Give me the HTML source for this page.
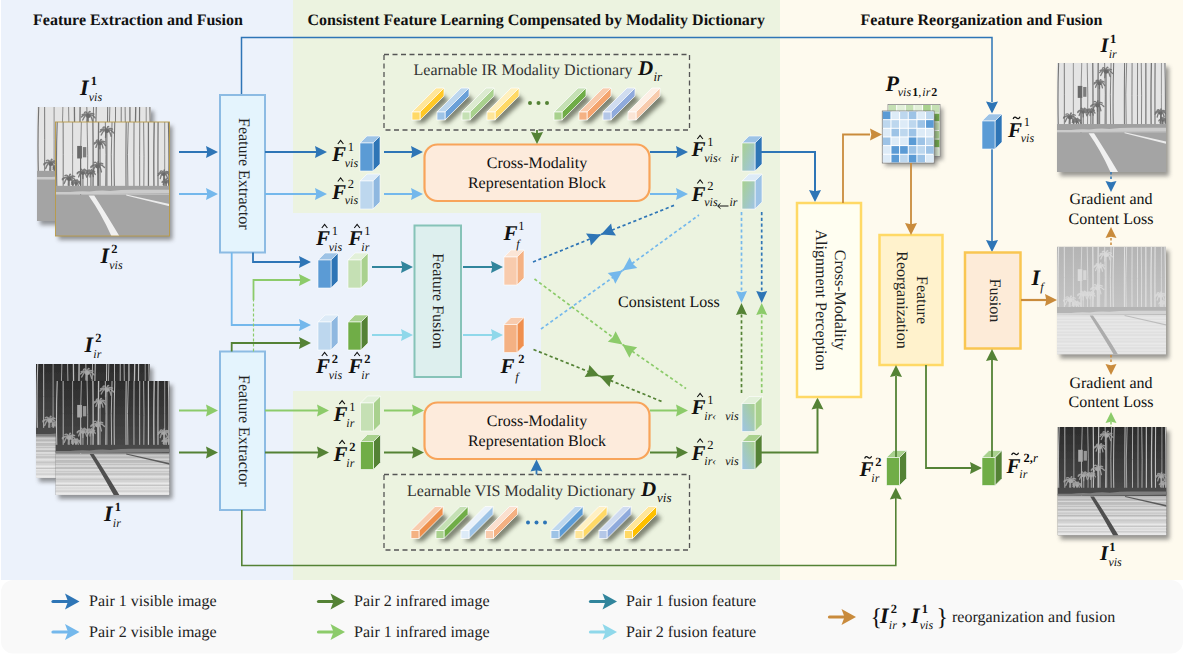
<!DOCTYPE html><html><head><meta charset="utf-8"><style>html,body{margin:0;padding:0;background:#fff;width:1184px;height:654px;overflow:hidden}svg{display:block}text{text-rendering:geometricPrecision;font-family:'Liberation Serif', serif}</style></head><body>
<svg width="1184" height="654" viewBox="0 0 1184 654">
<defs>
<filter id="blur3" x="-50%" y="-50%" width="200%" height="200%"><feGaussianBlur stdDeviation="2"/></filter>
<filter id="blur4" x="-50%" y="-50%" width="200%" height="200%"><feGaussianBlur stdDeviation="3"/></filter>
<filter id="soft" x="0" y="0" width="100%" height="100%"><feGaussianBlur stdDeviation="0.35"/></filter>
<linearGradient id="gvis" x1="0" y1="0" x2="1" y2="1"><stop offset="0" stop-color="#A9D18E"/><stop offset="1" stop-color="#9DC3E6"/></linearGradient>
<linearGradient id="gir" x1="1" y1="0" x2="0" y2="1"><stop offset="0" stop-color="#A9D18E"/><stop offset="1" stop-color="#9DC3E6"/></linearGradient>
<linearGradient id="skyv" x1="0" y1="0" x2="0" y2="1"><stop offset="0" stop-color="#EDEDED"/><stop offset="1" stop-color="#E2E2E2"/></linearGradient>
<linearGradient id="skyi" x1="0" y1="0" x2="0" y2="1"><stop offset="0" stop-color="#2C2C2C"/><stop offset="1" stop-color="#5A5A5A"/></linearGradient>
<linearGradient id="skyf" x1="0" y1="0" x2="0" y2="1"><stop offset="0" stop-color="#B4B4B4"/><stop offset="1" stop-color="#CFCFCF"/></linearGradient>
<linearGradient id="gndi" x1="0" y1="0" x2="0" y2="1"><stop offset="0" stop-color="#B4B4B4"/><stop offset="1" stop-color="#E2E2E2"/></linearGradient>

<symbol id="pv" viewBox="0 0 100 100" preserveAspectRatio="none"><rect width="100" height="100" fill="#E4E4E4"/><path d="M1.5,0 Q0.45254752177350577,29.147665529666323 1.1857642565320519,58.295331059332646" fill="none" stroke="#666666" stroke-width="0.98" opacity="0.9"/><path d="M6.7,0 Q6.807646012920068,28.644872573335086 6.73229380387602,57.28974514667017" fill="none" stroke="#666666" stroke-width="0.83" opacity="0.9"/><path d="M15,0 Q15.02230719956826,28.615997849549412 15.006692159870479,57.231995699098825" fill="none" stroke="#666666" stroke-width="0.65" opacity="0.9"/><path d="M22.7,0 Q21.409566270723857,29.36729136732477 22.312869881217157,58.73458273464954" fill="none" stroke="#666666" stroke-width="0.68" opacity="0.9"/><path d="M27.7,0 Q28.680556374016113,29.349038378285027 27.994166912204832,58.69807675657005" fill="none" stroke="#666666" stroke-width="0.70" opacity="0.9"/><path d="M32.8,0 Q33.18229966721677,28.94647792921403 32.91468990016503,57.89295585842806" fill="none" stroke="#666666" stroke-width="1.14" opacity="0.9"/><path d="M37.8,0 Q37.490041423952334,29.654205897235 37.7070124271857,59.30841179447" fill="none" stroke="#666666" stroke-width="1.16" opacity="0.9"/><path d="M43.7,0 Q44.77540537714604,28.593165361235513 44.02262161314381,57.18633072247103" fill="none" stroke="#666666" stroke-width="0.79" opacity="0.9"/><path d="M49.6,0 Q48.453376714235105,28.788510166714875 49.256013014270536,57.57702033342975" fill="none" stroke="#666666" stroke-width="0.80" opacity="0.9"/><path d="M52,0 Q51.04217913977181,30.132252718240064 51.71265374193155,60.26450543648013" fill="none" stroke="#666666" stroke-width="0.94" opacity="0.9"/><path d="M62,0 Q61.61719262817719,29.777826937852367 61.88515778845316,59.555653875704735" fill="none" stroke="#666666" stroke-width="0.93" opacity="0.9"/><path d="M63.9,0 Q62.5788035098987,28.625577949946646 63.503641052969606,57.25115589989329" fill="none" stroke="#666666" stroke-width="0.74" opacity="0.9"/><path d="M68.9,0 Q68.68277691700821,29.86079994636357 68.83483307510247,59.72159989272714" fill="none" stroke="#666666" stroke-width="0.80" opacity="0.9"/><path d="M73.9,0 Q73.75955312911233,29.671123727015278 73.85786593873371,59.342247454030556" fill="none" stroke="#666666" stroke-width="0.79" opacity="0.9"/><path d="M77.3,0 Q77.89698330118871,30.08875896304498 77.47909499035661,60.17751792608996" fill="none" stroke="#666666" stroke-width="0.76" opacity="0.9"/><path d="M81.5,0 Q81.57558951143436,29.648847420517342 81.52267685343031,59.297694841034684" fill="none" stroke="#666666" stroke-width="1.10" opacity="0.9"/><path d="M86.6,0 Q85.96381329467056,29.958890578878435 86.40914398840117,59.91778115775687" fill="none" stroke="#666666" stroke-width="1.16" opacity="0.9"/><path d="M90,0 Q89.75436846535568,28.736131556509925 89.9263105396067,57.47226311301985" fill="none" stroke="#666666" stroke-width="1.04" opacity="0.9"/><path d="M95.8,0 Q95.76688930142741,28.80396906932101 95.79006679042823,57.60793813864202" fill="none" stroke="#666666" stroke-width="0.65" opacity="0.9"/><path d="M99,0 Q99.79371259863844,29.83643171306879 99.23811377959153,59.67286342613758" fill="none" stroke="#666666" stroke-width="0.94" opacity="0.9"/><path d="M45,7 Q42.24179051893054,5.412081046798153 39.5,6.9 M45,7 Q43.343203219616434,3.2983925058812575 41.7,4.8 M45,7 Q45.8272934591305,2.6861188828548572 46.7,4.2 M45,7 Q47.52296494879042,4.702944255513975 50.0,6.2 M45,7 Q47.95471679081531,5.5 50.9,9.6 M45,7 Q46.89554305591098,5.5 48.8,12.5 M45,7 Q44.45938751358359,5.5 43.9,13.5 M45,7 Q42.537946434628395,5.5 40.1,11.5 M45,7 Q42.00000060836234,5.5 39.0,8.8" fill="none" stroke="#6a6a6a" stroke-width="1.2" stroke-linecap="round" opacity="0.85"/><ellipse cx="45" cy="8" rx="2.0999999999999996" ry="1.7999999999999998" fill="#6a6a6a"/><rect x="44.5" y="7" width="1.1" height="51" fill="#6a6a6a" opacity="0.8"/><path d="M39,18 Q36.64381308254741,16.5 34.3,18.2 M39,18 Q37.46522804190906,14.842492107081327 35.9,16.3 M39,18 Q39.69387730799289,14.157156292467974 40.4,15.7 M39,18 Q41.12361561447193,15.889299356079643 43.2,17.4 M39,18 Q41.389866315842625,16.5 43.8,20.7 M39,18 Q40.35794781006747,16.5 41.7,22.9 M39,18 Q38.963545459924504,16.5 38.9,23.5 M39,18 Q37.215444097291524,16.5 35.4,22.3 M39,18 Q36.50435045393672,16.5 34.0,19.3" fill="none" stroke="#6a6a6a" stroke-width="1.2" stroke-linecap="round" opacity="0.85"/><ellipse cx="39" cy="19" rx="1.75" ry="1.5" fill="#6a6a6a"/><rect x="38.5" y="18" width="1.1" height="40" fill="#6a6a6a" opacity="0.8"/><path d="M37,38 Q34.03295619937711,36.5 31.1,39.1 M37,38 Q35.45580385051549,34.18471469702184 33.9,35.7 M37,38 Q37.36274275633065,33.53521781259752 37.7,35.0 M37,38 Q39.26553291416467,35.15350303130902 41.5,36.7 M37,38 Q39.999530803050405,36.5 43.0,39.9 M37,38 Q38.66989671232657,36.5 40.3,43.8 M37,38 Q37.095966406220725,36.5 37.2,44.6 M37,38 Q34.94743951268963,36.5 32.9,43.3 M37,38 Q34.000886255889576,36.5 31.0,39.9" fill="none" stroke="#6a6a6a" stroke-width="1.2" stroke-linecap="round" opacity="0.85"/><ellipse cx="37" cy="39" rx="2.0999999999999996" ry="1.7999999999999998" fill="#6a6a6a"/><rect x="36.5" y="38" width="1.1" height="20" fill="#6a6a6a" opacity="0.8"/><path d="M31,44 Q29.160237904075274,42.44496808732982 27.3,43.9 M31,44 Q29.78163506846431,41.1623037124931 28.6,42.7 M31,44 Q31.408216212179447,40.56736526519106 31.8,42.1 M31,44 Q32.667238579141795,41.932513725154735 34.3,43.4 M31,44 Q32.9301770667734,42.5 34.9,46.0 M31,44 Q32.087690352038976,42.5 33.2,47.9 M31,44 Q30.625427042617964,42.5 30.3,48.3 M31,44 Q29.618204655294225,42.5 28.2,47.5 M31,44 Q29.000289118794097,42.5 27.0,45.3" fill="none" stroke="#6a6a6a" stroke-width="1.2" stroke-linecap="round" opacity="0.85"/><ellipse cx="31" cy="45" rx="1.4" ry="1.2" fill="#6a6a6a"/><rect x="30.5" y="44" width="1.1" height="14" fill="#6a6a6a" opacity="0.8"/><path d="M24,44 Q21.577239713376933,42.5 19.2,44.5 M24,44 Q22.994437465426245,40.337836621340095 22.0,41.8 M24,44 Q24.876275218225825,40.25376417462493 25.8,41.8 M24,44 Q25.90447639031578,41.40870642775693 27.8,42.9 M24,44 Q26.496507386145176,42.5 29.0,45.7 M24,44 Q25.706307671096134,42.5 27.4,48.4 M24,44 Q24.001988754016843,42.5 24.0,49.5 M24,44 Q22.164152284916582,42.5 20.3,48.2 M24,44 Q21.501543751943004,42.5 19.0,45.4" fill="none" stroke="#6a6a6a" stroke-width="1.2" stroke-linecap="round" opacity="0.85"/><ellipse cx="24" cy="45" rx="1.75" ry="1.5" fill="#6a6a6a"/><rect x="23.5" y="44" width="1.1" height="14" fill="#6a6a6a" opacity="0.8"/><path d="M12,49 Q9.072580675271116,47.5 6.1,49.8 M12,49 Q10.118347162977539,45.56154852133014 8.2,47.1 M12,49 Q12.585655633711905,44.592353120137844 13.2,46.1 M12,49 Q14.407676948620882,46.4364506673773 16.8,47.9 M12,49 Q14.9568038399205,47.5 17.9,51.6 M12,49 Q13.529179726299223,47.5 15.1,54.9 M12,49 Q11.592211023997894,47.5 11.2,55.6 M12,49 Q9.778425273859341,47.5 7.6,54.0 M12,49 Q9.00286213606139,47.5 6.0,50.6" fill="none" stroke="#6a6a6a" stroke-width="1.2" stroke-linecap="round" opacity="0.85"/><ellipse cx="12" cy="50" rx="2.0999999999999996" ry="1.7999999999999998" fill="#6a6a6a"/><rect x="11.5" y="49" width="1.1" height="9" fill="#6a6a6a" opacity="0.8"/><path d="M18,53 Q16.117479171970984,51.5 14.2,53.1 M18,53 Q16.769022717053534,50.177933581781296 15.5,51.7 M18,53 Q18.668211368015132,49.68388602118593 19.3,51.2 M18,53 Q19.739590472635733,51.12107885946183 21.5,52.6 M18,53 Q19.931564290296006,51.5 21.9,55.0 M18,53 Q19.09844637326512,51.5 20.2,56.9 M18,53 Q17.906199731069584,51.5 17.8,57.4 M18,53 Q16.566825175186437,51.5 15.1,56.4 M18,53 Q16.012204784820284,51.5 14.0,54.6" fill="none" stroke="#6a6a6a" stroke-width="1.2" stroke-linecap="round" opacity="0.85"/><ellipse cx="18" cy="54" rx="1.4" ry="1.2" fill="#6a6a6a"/><rect x="17.5" y="53" width="1.1" height="5" fill="#6a6a6a" opacity="0.8"/><path d="M95,45 Q92.63642093382859,43.5 90.3,45.2 M95,45 Q93.46616267485845,41.84132967316835 91.9,43.3 M95,45 Q95.22718766460795,41.01655079629124 95.5,42.5 M95,45 Q96.93229193971135,42.46197034672565 98.9,44.0 M95,45 Q97.4970370739115,43.5 100.0,46.7 M95,45 Q96.64616788110615,43.5 98.3,49.5 M95,45 Q95.13748971221129,43.5 95.3,50.5 M95,45 Q93.42942981424306,43.5 91.9,49.6 M95,45 Q92.51156229508862,43.5 90.0,46.9" fill="none" stroke="#6a6a6a" stroke-width="1.2" stroke-linecap="round" opacity="0.85"/><ellipse cx="95" cy="46" rx="1.75" ry="1.5" fill="#6a6a6a"/><rect x="94.5" y="45" width="1.1" height="13" fill="#6a6a6a" opacity="0.8"/><path d="M97,52 Q95.27583181995591,50.5 93.6,52.6 M97,52 Q96.0554660960781,49.19285965561748 95.1,50.7 M97,52 Q97.13714077863347,48.75861099781853 97.3,50.3 M97,52 Q98.545972450823,50.23793250778832 100.1,51.7 M97,52 Q98.72038877910833,50.5 100.4,53.6 M97,52 Q98.22604147146257,50.5 99.5,55.0 M97,52 Q96.99145828361523,50.5 97.0,55.8 M97,52 Q95.7650127389264,50.5 94.5,55.0 M97,52 Q95.25091526634009,50.5 93.5,53.1" fill="none" stroke="#6a6a6a" stroke-width="1.2" stroke-linecap="round" opacity="0.85"/><ellipse cx="97" cy="53" rx="1.2249999999999999" ry="1.05" fill="#6a6a6a"/><rect x="96.5" y="52" width="1.1" height="6" fill="#6a6a6a" opacity="0.8"/><rect x="19" y="21" width="4.2" height="11" fill="#6a6a6a"/><rect x="24" y="22" width="3" height="9" fill="#6a6a6a" opacity="0.85"/><rect x="21.5" y="30" width="1" height="34" fill="#6a6a6a"/><rect x="0" y="56" width="100" height="7" fill="#a0a0a0"/><path d="M0,61.5 L13,61.5 Q20,60.5 30,61 Q40,59.5 48,60.5 Q60,59 75,59.5 L100,59.5 L100,62.5 L0,63.5 Z" fill="#cbcbcb"/><rect x="0" y="63.5" width="100" height="36.5" fill="#a4a4a4"/><path d="M29,64.5 L34,64.5 Q44,80 56,100 L49,100 Q40,80 29,64.5 Z" fill="#f0f0f0"/><polygon points="62,63.5 100,72 100,74 62,64.5" fill="#ebebeb"/></symbol>
<symbol id="pi" viewBox="0 0 100 100" preserveAspectRatio="none"><rect width="100" height="100" fill="url(#skyi)"/><path d="M1.5,0 Q0.45254752177350577,29.147665529666323 1.1857642565320519,58.295331059332646" fill="none" stroke="#c4c4c4" stroke-width="0.98" opacity="0.95"/><path d="M6.7,0 Q6.807646012920068,28.644872573335086 6.73229380387602,57.28974514667017" fill="none" stroke="#c4c4c4" stroke-width="0.83" opacity="0.95"/><path d="M15,0 Q15.02230719956826,28.615997849549412 15.006692159870479,57.231995699098825" fill="none" stroke="#c4c4c4" stroke-width="0.65" opacity="0.95"/><path d="M22.7,0 Q21.409566270723857,29.36729136732477 22.312869881217157,58.73458273464954" fill="none" stroke="#c4c4c4" stroke-width="0.68" opacity="0.95"/><path d="M27.7,0 Q28.680556374016113,29.349038378285027 27.994166912204832,58.69807675657005" fill="none" stroke="#c4c4c4" stroke-width="0.70" opacity="0.95"/><path d="M32.8,0 Q33.18229966721677,28.94647792921403 32.91468990016503,57.89295585842806" fill="none" stroke="#c4c4c4" stroke-width="1.14" opacity="0.95"/><path d="M37.8,0 Q37.490041423952334,29.654205897235 37.7070124271857,59.30841179447" fill="none" stroke="#c4c4c4" stroke-width="1.16" opacity="0.95"/><path d="M43.7,0 Q44.77540537714604,28.593165361235513 44.02262161314381,57.18633072247103" fill="none" stroke="#c4c4c4" stroke-width="0.79" opacity="0.95"/><path d="M49.6,0 Q48.453376714235105,28.788510166714875 49.256013014270536,57.57702033342975" fill="none" stroke="#c4c4c4" stroke-width="0.80" opacity="0.95"/><path d="M52,0 Q51.04217913977181,30.132252718240064 51.71265374193155,60.26450543648013" fill="none" stroke="#c4c4c4" stroke-width="0.94" opacity="0.95"/><path d="M62,0 Q61.61719262817719,29.777826937852367 61.88515778845316,59.555653875704735" fill="none" stroke="#c4c4c4" stroke-width="0.93" opacity="0.95"/><path d="M63.9,0 Q62.5788035098987,28.625577949946646 63.503641052969606,57.25115589989329" fill="none" stroke="#c4c4c4" stroke-width="0.74" opacity="0.95"/><path d="M68.9,0 Q68.68277691700821,29.86079994636357 68.83483307510247,59.72159989272714" fill="none" stroke="#c4c4c4" stroke-width="0.80" opacity="0.95"/><path d="M73.9,0 Q73.75955312911233,29.671123727015278 73.85786593873371,59.342247454030556" fill="none" stroke="#c4c4c4" stroke-width="0.79" opacity="0.95"/><path d="M77.3,0 Q77.89698330118871,30.08875896304498 77.47909499035661,60.17751792608996" fill="none" stroke="#c4c4c4" stroke-width="0.76" opacity="0.95"/><path d="M81.5,0 Q81.57558951143436,29.648847420517342 81.52267685343031,59.297694841034684" fill="none" stroke="#c4c4c4" stroke-width="1.10" opacity="0.95"/><path d="M86.6,0 Q85.96381329467056,29.958890578878435 86.40914398840117,59.91778115775687" fill="none" stroke="#c4c4c4" stroke-width="1.16" opacity="0.95"/><path d="M90,0 Q89.75436846535568,28.736131556509925 89.9263105396067,57.47226311301985" fill="none" stroke="#c4c4c4" stroke-width="1.04" opacity="0.95"/><path d="M95.8,0 Q95.76688930142741,28.80396906932101 95.79006679042823,57.60793813864202" fill="none" stroke="#c4c4c4" stroke-width="0.65" opacity="0.95"/><path d="M99,0 Q99.79371259863844,29.83643171306879 99.23811377959153,59.67286342613758" fill="none" stroke="#c4c4c4" stroke-width="0.94" opacity="0.95"/><path d="M45,7 Q42.24179051893054,5.412081046798153 39.5,6.9 M45,7 Q43.343203219616434,3.2983925058812575 41.7,4.8 M45,7 Q45.8272934591305,2.6861188828548572 46.7,4.2 M45,7 Q47.52296494879042,4.702944255513975 50.0,6.2 M45,7 Q47.95471679081531,5.5 50.9,9.6 M45,7 Q46.89554305591098,5.5 48.8,12.5 M45,7 Q44.45938751358359,5.5 43.9,13.5 M45,7 Q42.537946434628395,5.5 40.1,11.5 M45,7 Q42.00000060836234,5.5 39.0,8.8" fill="none" stroke="#a8a8a8" stroke-width="1.2" stroke-linecap="round" opacity="0.85"/><ellipse cx="45" cy="8" rx="2.0999999999999996" ry="1.7999999999999998" fill="#a8a8a8"/><rect x="44.5" y="7" width="1.1" height="51" fill="#a8a8a8" opacity="0.8"/><path d="M39,18 Q36.64381308254741,16.5 34.3,18.2 M39,18 Q37.46522804190906,14.842492107081327 35.9,16.3 M39,18 Q39.69387730799289,14.157156292467974 40.4,15.7 M39,18 Q41.12361561447193,15.889299356079643 43.2,17.4 M39,18 Q41.389866315842625,16.5 43.8,20.7 M39,18 Q40.35794781006747,16.5 41.7,22.9 M39,18 Q38.963545459924504,16.5 38.9,23.5 M39,18 Q37.215444097291524,16.5 35.4,22.3 M39,18 Q36.50435045393672,16.5 34.0,19.3" fill="none" stroke="#a8a8a8" stroke-width="1.2" stroke-linecap="round" opacity="0.85"/><ellipse cx="39" cy="19" rx="1.75" ry="1.5" fill="#a8a8a8"/><rect x="38.5" y="18" width="1.1" height="40" fill="#a8a8a8" opacity="0.8"/><path d="M37,38 Q34.03295619937711,36.5 31.1,39.1 M37,38 Q35.45580385051549,34.18471469702184 33.9,35.7 M37,38 Q37.36274275633065,33.53521781259752 37.7,35.0 M37,38 Q39.26553291416467,35.15350303130902 41.5,36.7 M37,38 Q39.999530803050405,36.5 43.0,39.9 M37,38 Q38.66989671232657,36.5 40.3,43.8 M37,38 Q37.095966406220725,36.5 37.2,44.6 M37,38 Q34.94743951268963,36.5 32.9,43.3 M37,38 Q34.000886255889576,36.5 31.0,39.9" fill="none" stroke="#a8a8a8" stroke-width="1.2" stroke-linecap="round" opacity="0.85"/><ellipse cx="37" cy="39" rx="2.0999999999999996" ry="1.7999999999999998" fill="#a8a8a8"/><rect x="36.5" y="38" width="1.1" height="20" fill="#a8a8a8" opacity="0.8"/><path d="M31,44 Q29.160237904075274,42.44496808732982 27.3,43.9 M31,44 Q29.78163506846431,41.1623037124931 28.6,42.7 M31,44 Q31.408216212179447,40.56736526519106 31.8,42.1 M31,44 Q32.667238579141795,41.932513725154735 34.3,43.4 M31,44 Q32.9301770667734,42.5 34.9,46.0 M31,44 Q32.087690352038976,42.5 33.2,47.9 M31,44 Q30.625427042617964,42.5 30.3,48.3 M31,44 Q29.618204655294225,42.5 28.2,47.5 M31,44 Q29.000289118794097,42.5 27.0,45.3" fill="none" stroke="#a8a8a8" stroke-width="1.2" stroke-linecap="round" opacity="0.85"/><ellipse cx="31" cy="45" rx="1.4" ry="1.2" fill="#a8a8a8"/><rect x="30.5" y="44" width="1.1" height="14" fill="#a8a8a8" opacity="0.8"/><path d="M24,44 Q21.577239713376933,42.5 19.2,44.5 M24,44 Q22.994437465426245,40.337836621340095 22.0,41.8 M24,44 Q24.876275218225825,40.25376417462493 25.8,41.8 M24,44 Q25.90447639031578,41.40870642775693 27.8,42.9 M24,44 Q26.496507386145176,42.5 29.0,45.7 M24,44 Q25.706307671096134,42.5 27.4,48.4 M24,44 Q24.001988754016843,42.5 24.0,49.5 M24,44 Q22.164152284916582,42.5 20.3,48.2 M24,44 Q21.501543751943004,42.5 19.0,45.4" fill="none" stroke="#a8a8a8" stroke-width="1.2" stroke-linecap="round" opacity="0.85"/><ellipse cx="24" cy="45" rx="1.75" ry="1.5" fill="#a8a8a8"/><rect x="23.5" y="44" width="1.1" height="14" fill="#a8a8a8" opacity="0.8"/><path d="M12,49 Q9.072580675271116,47.5 6.1,49.8 M12,49 Q10.118347162977539,45.56154852133014 8.2,47.1 M12,49 Q12.585655633711905,44.592353120137844 13.2,46.1 M12,49 Q14.407676948620882,46.4364506673773 16.8,47.9 M12,49 Q14.9568038399205,47.5 17.9,51.6 M12,49 Q13.529179726299223,47.5 15.1,54.9 M12,49 Q11.592211023997894,47.5 11.2,55.6 M12,49 Q9.778425273859341,47.5 7.6,54.0 M12,49 Q9.00286213606139,47.5 6.0,50.6" fill="none" stroke="#a8a8a8" stroke-width="1.2" stroke-linecap="round" opacity="0.85"/><ellipse cx="12" cy="50" rx="2.0999999999999996" ry="1.7999999999999998" fill="#a8a8a8"/><rect x="11.5" y="49" width="1.1" height="9" fill="#a8a8a8" opacity="0.8"/><path d="M18,53 Q16.117479171970984,51.5 14.2,53.1 M18,53 Q16.769022717053534,50.177933581781296 15.5,51.7 M18,53 Q18.668211368015132,49.68388602118593 19.3,51.2 M18,53 Q19.739590472635733,51.12107885946183 21.5,52.6 M18,53 Q19.931564290296006,51.5 21.9,55.0 M18,53 Q19.09844637326512,51.5 20.2,56.9 M18,53 Q17.906199731069584,51.5 17.8,57.4 M18,53 Q16.566825175186437,51.5 15.1,56.4 M18,53 Q16.012204784820284,51.5 14.0,54.6" fill="none" stroke="#a8a8a8" stroke-width="1.2" stroke-linecap="round" opacity="0.85"/><ellipse cx="18" cy="54" rx="1.4" ry="1.2" fill="#a8a8a8"/><rect x="17.5" y="53" width="1.1" height="5" fill="#a8a8a8" opacity="0.8"/><path d="M95,45 Q92.63642093382859,43.5 90.3,45.2 M95,45 Q93.46616267485845,41.84132967316835 91.9,43.3 M95,45 Q95.22718766460795,41.01655079629124 95.5,42.5 M95,45 Q96.93229193971135,42.46197034672565 98.9,44.0 M95,45 Q97.4970370739115,43.5 100.0,46.7 M95,45 Q96.64616788110615,43.5 98.3,49.5 M95,45 Q95.13748971221129,43.5 95.3,50.5 M95,45 Q93.42942981424306,43.5 91.9,49.6 M95,45 Q92.51156229508862,43.5 90.0,46.9" fill="none" stroke="#a8a8a8" stroke-width="1.2" stroke-linecap="round" opacity="0.85"/><ellipse cx="95" cy="46" rx="1.75" ry="1.5" fill="#a8a8a8"/><rect x="94.5" y="45" width="1.1" height="13" fill="#a8a8a8" opacity="0.8"/><path d="M97,52 Q95.27583181995591,50.5 93.6,52.6 M97,52 Q96.0554660960781,49.19285965561748 95.1,50.7 M97,52 Q97.13714077863347,48.75861099781853 97.3,50.3 M97,52 Q98.545972450823,50.23793250778832 100.1,51.7 M97,52 Q98.72038877910833,50.5 100.4,53.6 M97,52 Q98.22604147146257,50.5 99.5,55.0 M97,52 Q96.99145828361523,50.5 97.0,55.8 M97,52 Q95.7650127389264,50.5 94.5,55.0 M97,52 Q95.25091526634009,50.5 93.5,53.1" fill="none" stroke="#a8a8a8" stroke-width="1.2" stroke-linecap="round" opacity="0.85"/><ellipse cx="97" cy="53" rx="1.2249999999999999" ry="1.05" fill="#a8a8a8"/><rect x="96.5" y="52" width="1.1" height="6" fill="#a8a8a8" opacity="0.8"/><rect x="19" y="21" width="4.2" height="11" fill="#a8a8a8"/><rect x="24" y="22" width="3" height="9" fill="#a8a8a8" opacity="0.85"/><rect x="21.5" y="30" width="1" height="34" fill="#a8a8a8"/><rect x="0" y="56" width="100" height="7" fill="#4a4a4a"/><path d="M0,61.5 L13,61.5 Q20,60.5 30,61 Q40,59.5 48,60.5 Q60,59 75,59.5 L100,59.5 L100,62.5 L0,63.5 Z" fill="#7e7e7e"/><rect x="0" y="63.5" width="100" height="36.5" fill="url(#gndi)"/><rect x="0" y="65" width="100" height="1.7999999999999998" fill="#f4f4f4" opacity="0.35"/><rect x="0" y="68" width="100" height="1.2" fill="#f4f4f4" opacity="0.53"/><rect x="0" y="71" width="100" height="1.7999999999999998" fill="#f4f4f4" opacity="0.41"/><rect x="0" y="74" width="100" height="1.2" fill="#f4f4f4" opacity="0.59"/><rect x="0" y="77" width="100" height="1.7999999999999998" fill="#f4f4f4" opacity="0.47"/><rect x="0" y="80" width="100" height="1.2" fill="#f4f4f4" opacity="0.35"/><rect x="0" y="83" width="100" height="1.7999999999999998" fill="#f4f4f4" opacity="0.53"/><rect x="0" y="86" width="100" height="1.2" fill="#f4f4f4" opacity="0.41"/><rect x="0" y="89" width="100" height="1.7999999999999998" fill="#f4f4f4" opacity="0.59"/><rect x="0" y="92" width="100" height="1.2" fill="#f4f4f4" opacity="0.47"/><rect x="0" y="95" width="100" height="1.7999999999999998" fill="#f4f4f4" opacity="0.35"/><rect x="0" y="98" width="100" height="1.2" fill="#f4f4f4" opacity="0.53"/><rect x="0" y="66" width="100" height="1" fill="#a0a0a0" opacity="0.4"/><rect x="0" y="71" width="100" height="1" fill="#a0a0a0" opacity="0.4"/><rect x="0" y="76" width="100" height="1" fill="#a0a0a0" opacity="0.4"/><rect x="0" y="81" width="100" height="1" fill="#a0a0a0" opacity="0.4"/><rect x="0" y="86" width="100" height="1" fill="#a0a0a0" opacity="0.4"/><rect x="0" y="91" width="100" height="1" fill="#a0a0a0" opacity="0.4"/><rect x="0" y="96" width="100" height="1" fill="#a0a0a0" opacity="0.4"/><path d="M30,64 L33.5,64 Q44,80 56,100 L51,100 Q40,80 30,64 Z" fill="#505050"/><polygon points="62,63.5 100,72 100,73.5 62,64.5" fill="#5a5a5a"/></symbol>
<symbol id="pf" viewBox="0 0 100 100" preserveAspectRatio="none"><rect width="100" height="100" fill="url(#skyf)"/><path d="M1.5,0 Q0.45254752177350577,29.147665529666323 1.1857642565320519,58.295331059332646" fill="none" stroke="#e8e8e8" stroke-width="0.98" opacity="0.85"/><path d="M6.7,0 Q6.807646012920068,28.644872573335086 6.73229380387602,57.28974514667017" fill="none" stroke="#e8e8e8" stroke-width="0.83" opacity="0.85"/><path d="M15,0 Q15.02230719956826,28.615997849549412 15.006692159870479,57.231995699098825" fill="none" stroke="#e8e8e8" stroke-width="0.65" opacity="0.85"/><path d="M22.7,0 Q21.409566270723857,29.36729136732477 22.312869881217157,58.73458273464954" fill="none" stroke="#e8e8e8" stroke-width="0.68" opacity="0.85"/><path d="M27.7,0 Q28.680556374016113,29.349038378285027 27.994166912204832,58.69807675657005" fill="none" stroke="#e8e8e8" stroke-width="0.70" opacity="0.85"/><path d="M32.8,0 Q33.18229966721677,28.94647792921403 32.91468990016503,57.89295585842806" fill="none" stroke="#e8e8e8" stroke-width="1.14" opacity="0.85"/><path d="M37.8,0 Q37.490041423952334,29.654205897235 37.7070124271857,59.30841179447" fill="none" stroke="#e8e8e8" stroke-width="1.16" opacity="0.85"/><path d="M43.7,0 Q44.77540537714604,28.593165361235513 44.02262161314381,57.18633072247103" fill="none" stroke="#e8e8e8" stroke-width="0.79" opacity="0.85"/><path d="M49.6,0 Q48.453376714235105,28.788510166714875 49.256013014270536,57.57702033342975" fill="none" stroke="#e8e8e8" stroke-width="0.80" opacity="0.85"/><path d="M52,0 Q51.04217913977181,30.132252718240064 51.71265374193155,60.26450543648013" fill="none" stroke="#e8e8e8" stroke-width="0.94" opacity="0.85"/><path d="M62,0 Q61.61719262817719,29.777826937852367 61.88515778845316,59.555653875704735" fill="none" stroke="#e8e8e8" stroke-width="0.93" opacity="0.85"/><path d="M63.9,0 Q62.5788035098987,28.625577949946646 63.503641052969606,57.25115589989329" fill="none" stroke="#e8e8e8" stroke-width="0.74" opacity="0.85"/><path d="M68.9,0 Q68.68277691700821,29.86079994636357 68.83483307510247,59.72159989272714" fill="none" stroke="#e8e8e8" stroke-width="0.80" opacity="0.85"/><path d="M73.9,0 Q73.75955312911233,29.671123727015278 73.85786593873371,59.342247454030556" fill="none" stroke="#e8e8e8" stroke-width="0.79" opacity="0.85"/><path d="M77.3,0 Q77.89698330118871,30.08875896304498 77.47909499035661,60.17751792608996" fill="none" stroke="#e8e8e8" stroke-width="0.76" opacity="0.85"/><path d="M81.5,0 Q81.57558951143436,29.648847420517342 81.52267685343031,59.297694841034684" fill="none" stroke="#e8e8e8" stroke-width="1.10" opacity="0.85"/><path d="M86.6,0 Q85.96381329467056,29.958890578878435 86.40914398840117,59.91778115775687" fill="none" stroke="#e8e8e8" stroke-width="1.16" opacity="0.85"/><path d="M90,0 Q89.75436846535568,28.736131556509925 89.9263105396067,57.47226311301985" fill="none" stroke="#e8e8e8" stroke-width="1.04" opacity="0.85"/><path d="M95.8,0 Q95.76688930142741,28.80396906932101 95.79006679042823,57.60793813864202" fill="none" stroke="#e8e8e8" stroke-width="0.65" opacity="0.85"/><path d="M99,0 Q99.79371259863844,29.83643171306879 99.23811377959153,59.67286342613758" fill="none" stroke="#e8e8e8" stroke-width="0.94" opacity="0.85"/><path d="M45,7 Q42.24179051893054,5.412081046798153 39.5,6.9 M45,7 Q43.343203219616434,3.2983925058812575 41.7,4.8 M45,7 Q45.8272934591305,2.6861188828548572 46.7,4.2 M45,7 Q47.52296494879042,4.702944255513975 50.0,6.2 M45,7 Q47.95471679081531,5.5 50.9,9.6 M45,7 Q46.89554305591098,5.5 48.8,12.5 M45,7 Q44.45938751358359,5.5 43.9,13.5 M45,7 Q42.537946434628395,5.5 40.1,11.5 M45,7 Q42.00000060836234,5.5 39.0,8.8" fill="none" stroke="#dadada" stroke-width="1.2" stroke-linecap="round" opacity="0.85"/><ellipse cx="45" cy="8" rx="2.0999999999999996" ry="1.7999999999999998" fill="#dadada"/><rect x="44.5" y="7" width="1.1" height="51" fill="#dadada" opacity="0.8"/><path d="M39,18 Q36.64381308254741,16.5 34.3,18.2 M39,18 Q37.46522804190906,14.842492107081327 35.9,16.3 M39,18 Q39.69387730799289,14.157156292467974 40.4,15.7 M39,18 Q41.12361561447193,15.889299356079643 43.2,17.4 M39,18 Q41.389866315842625,16.5 43.8,20.7 M39,18 Q40.35794781006747,16.5 41.7,22.9 M39,18 Q38.963545459924504,16.5 38.9,23.5 M39,18 Q37.215444097291524,16.5 35.4,22.3 M39,18 Q36.50435045393672,16.5 34.0,19.3" fill="none" stroke="#dadada" stroke-width="1.2" stroke-linecap="round" opacity="0.85"/><ellipse cx="39" cy="19" rx="1.75" ry="1.5" fill="#dadada"/><rect x="38.5" y="18" width="1.1" height="40" fill="#dadada" opacity="0.8"/><path d="M37,38 Q34.03295619937711,36.5 31.1,39.1 M37,38 Q35.45580385051549,34.18471469702184 33.9,35.7 M37,38 Q37.36274275633065,33.53521781259752 37.7,35.0 M37,38 Q39.26553291416467,35.15350303130902 41.5,36.7 M37,38 Q39.999530803050405,36.5 43.0,39.9 M37,38 Q38.66989671232657,36.5 40.3,43.8 M37,38 Q37.095966406220725,36.5 37.2,44.6 M37,38 Q34.94743951268963,36.5 32.9,43.3 M37,38 Q34.000886255889576,36.5 31.0,39.9" fill="none" stroke="#dadada" stroke-width="1.2" stroke-linecap="round" opacity="0.85"/><ellipse cx="37" cy="39" rx="2.0999999999999996" ry="1.7999999999999998" fill="#dadada"/><rect x="36.5" y="38" width="1.1" height="20" fill="#dadada" opacity="0.8"/><path d="M31,44 Q29.160237904075274,42.44496808732982 27.3,43.9 M31,44 Q29.78163506846431,41.1623037124931 28.6,42.7 M31,44 Q31.408216212179447,40.56736526519106 31.8,42.1 M31,44 Q32.667238579141795,41.932513725154735 34.3,43.4 M31,44 Q32.9301770667734,42.5 34.9,46.0 M31,44 Q32.087690352038976,42.5 33.2,47.9 M31,44 Q30.625427042617964,42.5 30.3,48.3 M31,44 Q29.618204655294225,42.5 28.2,47.5 M31,44 Q29.000289118794097,42.5 27.0,45.3" fill="none" stroke="#dadada" stroke-width="1.2" stroke-linecap="round" opacity="0.85"/><ellipse cx="31" cy="45" rx="1.4" ry="1.2" fill="#dadada"/><rect x="30.5" y="44" width="1.1" height="14" fill="#dadada" opacity="0.8"/><path d="M24,44 Q21.577239713376933,42.5 19.2,44.5 M24,44 Q22.994437465426245,40.337836621340095 22.0,41.8 M24,44 Q24.876275218225825,40.25376417462493 25.8,41.8 M24,44 Q25.90447639031578,41.40870642775693 27.8,42.9 M24,44 Q26.496507386145176,42.5 29.0,45.7 M24,44 Q25.706307671096134,42.5 27.4,48.4 M24,44 Q24.001988754016843,42.5 24.0,49.5 M24,44 Q22.164152284916582,42.5 20.3,48.2 M24,44 Q21.501543751943004,42.5 19.0,45.4" fill="none" stroke="#dadada" stroke-width="1.2" stroke-linecap="round" opacity="0.85"/><ellipse cx="24" cy="45" rx="1.75" ry="1.5" fill="#dadada"/><rect x="23.5" y="44" width="1.1" height="14" fill="#dadada" opacity="0.8"/><path d="M12,49 Q9.072580675271116,47.5 6.1,49.8 M12,49 Q10.118347162977539,45.56154852133014 8.2,47.1 M12,49 Q12.585655633711905,44.592353120137844 13.2,46.1 M12,49 Q14.407676948620882,46.4364506673773 16.8,47.9 M12,49 Q14.9568038399205,47.5 17.9,51.6 M12,49 Q13.529179726299223,47.5 15.1,54.9 M12,49 Q11.592211023997894,47.5 11.2,55.6 M12,49 Q9.778425273859341,47.5 7.6,54.0 M12,49 Q9.00286213606139,47.5 6.0,50.6" fill="none" stroke="#dadada" stroke-width="1.2" stroke-linecap="round" opacity="0.85"/><ellipse cx="12" cy="50" rx="2.0999999999999996" ry="1.7999999999999998" fill="#dadada"/><rect x="11.5" y="49" width="1.1" height="9" fill="#dadada" opacity="0.8"/><path d="M18,53 Q16.117479171970984,51.5 14.2,53.1 M18,53 Q16.769022717053534,50.177933581781296 15.5,51.7 M18,53 Q18.668211368015132,49.68388602118593 19.3,51.2 M18,53 Q19.739590472635733,51.12107885946183 21.5,52.6 M18,53 Q19.931564290296006,51.5 21.9,55.0 M18,53 Q19.09844637326512,51.5 20.2,56.9 M18,53 Q17.906199731069584,51.5 17.8,57.4 M18,53 Q16.566825175186437,51.5 15.1,56.4 M18,53 Q16.012204784820284,51.5 14.0,54.6" fill="none" stroke="#dadada" stroke-width="1.2" stroke-linecap="round" opacity="0.85"/><ellipse cx="18" cy="54" rx="1.4" ry="1.2" fill="#dadada"/><rect x="17.5" y="53" width="1.1" height="5" fill="#dadada" opacity="0.8"/><path d="M95,45 Q92.63642093382859,43.5 90.3,45.2 M95,45 Q93.46616267485845,41.84132967316835 91.9,43.3 M95,45 Q95.22718766460795,41.01655079629124 95.5,42.5 M95,45 Q96.93229193971135,42.46197034672565 98.9,44.0 M95,45 Q97.4970370739115,43.5 100.0,46.7 M95,45 Q96.64616788110615,43.5 98.3,49.5 M95,45 Q95.13748971221129,43.5 95.3,50.5 M95,45 Q93.42942981424306,43.5 91.9,49.6 M95,45 Q92.51156229508862,43.5 90.0,46.9" fill="none" stroke="#dadada" stroke-width="1.2" stroke-linecap="round" opacity="0.85"/><ellipse cx="95" cy="46" rx="1.75" ry="1.5" fill="#dadada"/><rect x="94.5" y="45" width="1.1" height="13" fill="#dadada" opacity="0.8"/><path d="M97,52 Q95.27583181995591,50.5 93.6,52.6 M97,52 Q96.0554660960781,49.19285965561748 95.1,50.7 M97,52 Q97.13714077863347,48.75861099781853 97.3,50.3 M97,52 Q98.545972450823,50.23793250778832 100.1,51.7 M97,52 Q98.72038877910833,50.5 100.4,53.6 M97,52 Q98.22604147146257,50.5 99.5,55.0 M97,52 Q96.99145828361523,50.5 97.0,55.8 M97,52 Q95.7650127389264,50.5 94.5,55.0 M97,52 Q95.25091526634009,50.5 93.5,53.1" fill="none" stroke="#dadada" stroke-width="1.2" stroke-linecap="round" opacity="0.85"/><ellipse cx="97" cy="53" rx="1.2249999999999999" ry="1.05" fill="#dadada"/><rect x="96.5" y="52" width="1.1" height="6" fill="#dadada" opacity="0.8"/><rect x="19" y="21" width="4.2" height="11" fill="#dadada"/><rect x="24" y="22" width="3" height="9" fill="#dadada" opacity="0.85"/><rect x="21.5" y="30" width="1" height="34" fill="#dadada"/><rect x="0" y="56" width="100" height="7" fill="#b4b4b4"/><path d="M0,61.5 L13,61.5 Q20,60.5 30,61 Q40,59.5 48,60.5 Q60,59 75,59.5 L100,59.5 L100,62.5 L0,63.5 Z" fill="#d4d4d4"/><rect x="0" y="63.5" width="100" height="36.5" fill="#e0e0e0"/><rect x="0" y="65" width="100" height="1.7999999999999998" fill="#f0f0f0" opacity="0.35"/><rect x="0" y="68" width="100" height="1.2" fill="#f0f0f0" opacity="0.53"/><rect x="0" y="71" width="100" height="1.7999999999999998" fill="#f0f0f0" opacity="0.41"/><rect x="0" y="74" width="100" height="1.2" fill="#f0f0f0" opacity="0.59"/><rect x="0" y="77" width="100" height="1.7999999999999998" fill="#f0f0f0" opacity="0.47"/><rect x="0" y="80" width="100" height="1.2" fill="#f0f0f0" opacity="0.35"/><rect x="0" y="83" width="100" height="1.7999999999999998" fill="#f0f0f0" opacity="0.53"/><rect x="0" y="86" width="100" height="1.2" fill="#f0f0f0" opacity="0.41"/><rect x="0" y="89" width="100" height="1.7999999999999998" fill="#f0f0f0" opacity="0.59"/><rect x="0" y="92" width="100" height="1.2" fill="#f0f0f0" opacity="0.47"/><rect x="0" y="95" width="100" height="1.7999999999999998" fill="#f0f0f0" opacity="0.35"/><rect x="0" y="98" width="100" height="1.2" fill="#f0f0f0" opacity="0.53"/><path d="M30,64 L33,64 Q44,80 56,100 L52,100 Q40,80 30,64 Z" fill="#acacac"/><polygon points="62,63.5 100,72 100,73.2 62,64.3" fill="#bcbcbc"/></symbol>
</defs>
<rect x="1" y="0" width="292" height="580" fill="#ECF2FB"/>
<rect x="293" y="0" width="487" height="580" fill="#ECF3E0"/>
<rect x="780" y="0" width="403" height="580" fill="#FEFAEE"/>
<rect x="293" y="213" width="248" height="178" fill="#ECF2FB"/>
<rect x="1" y="580" width="1182" height="73.5" rx="12" fill="#F9F9F9"/>
<text x="33" y="24.5" font-size="16" font-weight="bold" font-style="normal" text-anchor="start" fill="#111" >Feature Extraction and Fusion</text>
<text x="307.5" y="24.5" font-size="16" font-weight="bold" font-style="normal" text-anchor="start" fill="#111" >Consistent Feature Learning Compensated by Modality Dictionary</text>
<text x="860.5" y="24.5" font-size="16" font-weight="bold" font-style="normal" text-anchor="start" fill="#111" >Feature Reorganization and Fusion</text>
<path d="M241.5,95 L241.5,37.4 L992,37.4 L992,102" fill="none" stroke="#2E75B6" stroke-width="1.5"/>
<polygon points="992.0,113.5 986.0,101.5 992.0,102.8 998.0,101.5" fill="#2E75B6"/>
<path d="M992,149 L992.0,242.0" fill="none" stroke="#2E75B6" stroke-width="1.6"/>
<polygon points="992.0,252.0 986.0,240.0 992.0,241.3 998.0,240.0" fill="#2E75B6"/>
<rect x="40" y="111" width="114" height="114" fill="#555" opacity="0.6" filter="url(#blur3)"/>
<use href="#pv" x="37" y="107" width="114" height="114" filter="url(#soft)"/>
<rect x="58.5" y="126" width="114" height="114" fill="#555" opacity="0.6" filter="url(#blur3)"/>
<use href="#pv" x="55.5" y="122" width="114" height="114" filter="url(#soft)"/>
<rect x="55.5" y="122" width="114" height="114" fill="none" stroke="#B99A45" stroke-width="0.9"/>
<text x="80" y="95" font-size="22" font-weight="bold" font-style="italic" text-anchor="start" fill="#111" >I</text>
<text x="90.8" y="85" font-size="12.5" font-weight="bold" font-style="normal" text-anchor="start" fill="#111" >1</text>
<text x="88.8" y="101.2" font-size="12" font-weight="normal" font-style="italic" text-anchor="start" fill="#111" >vis</text>
<text x="100.5" y="262.5" font-size="22" font-weight="bold" font-style="italic" text-anchor="start" fill="#111" >I</text>
<text x="111.3" y="252.5" font-size="12.5" font-weight="bold" font-style="normal" text-anchor="start" fill="#111" >2</text>
<text x="109.3" y="268.7" font-size="12" font-weight="normal" font-style="italic" text-anchor="start" fill="#111" >vis</text>
<rect x="39" y="368" width="114" height="114" fill="#555" opacity="0.6" filter="url(#blur3)"/>
<use href="#pi" x="36" y="364" width="114" height="114" filter="url(#soft)"/>
<rect x="58.5" y="385" width="114" height="114" fill="#555" opacity="0.6" filter="url(#blur3)"/>
<use href="#pi" x="55.5" y="381" width="114" height="114" filter="url(#soft)"/>
<text x="84.5" y="352" font-size="22" font-weight="bold" font-style="italic" text-anchor="start" fill="#111" >I</text>
<text x="95.3" y="342" font-size="12.5" font-weight="bold" font-style="normal" text-anchor="start" fill="#111" >2</text>
<text x="93.3" y="358.2" font-size="12" font-weight="normal" font-style="italic" text-anchor="start" fill="#111" >ir</text>
<text x="104" y="521" font-size="22" font-weight="bold" font-style="italic" text-anchor="start" fill="#111" >I</text>
<text x="114.8" y="511" font-size="12.5" font-weight="bold" font-style="normal" text-anchor="start" fill="#111" >1</text>
<text x="112.8" y="527.2" font-size="12" font-weight="normal" font-style="italic" text-anchor="start" fill="#111" >ir</text>
<path d="M179,152 L208.0,152.0" fill="none" stroke="#2E75B6" stroke-width="2"/>
<polygon points="218.0,152.0 206.0,158.0 207.3,152.0 206.0,146.0" fill="#2E75B6"/>
<path d="M179,194 L208.0,194.0" fill="none" stroke="#74B8EC" stroke-width="2"/>
<polygon points="218.0,194.0 206.0,200.0 207.3,194.0 206.0,188.0" fill="#74B8EC"/>
<path d="M179,410.5 L208.0,410.5" fill="none" stroke="#8CCB6A" stroke-width="2"/>
<polygon points="218.0,410.5 206.0,416.5 207.3,410.5 206.0,404.5" fill="#8CCB6A"/>
<path d="M179,452.5 L208.0,452.5" fill="none" stroke="#548235" stroke-width="2"/>
<polygon points="218.0,452.5 206.0,458.5 207.3,452.5 206.0,446.5" fill="#548235"/>
<rect x="220" y="95" width="45" height="157.5" fill="#E4F4FD" stroke="#8CBBE3" stroke-width="2"/>
<text x="243.5" y="173.75" font-size="16" text-anchor="middle" dominant-baseline="central" transform="rotate(90 243.5 173.75)" fill="#222">Feature Extractor</text>
<rect x="220" y="351.5" width="45" height="158.5" fill="#E4F4FD" stroke="#8CBBE3" stroke-width="2"/>
<text x="243.5" y="430.75" font-size="16" text-anchor="middle" dominant-baseline="central" transform="rotate(90 243.5 430.75)" fill="#222">Feature Extractor</text>
<path d="M265,152 L317.0,152.0" fill="none" stroke="#2E75B6" stroke-width="2"/>
<polygon points="327.0,152.0 315.0,158.0 316.3,152.0 315.0,146.0" fill="#2E75B6"/>
<path d="M265,194 L317.0,194.0" fill="none" stroke="#74B8EC" stroke-width="2"/>
<polygon points="327.0,194.0 315.0,200.0 316.3,194.0 315.0,188.0" fill="#74B8EC"/>
<path d="M265,410.5 L319.0,410.5" fill="none" stroke="#8CCB6A" stroke-width="2"/>
<polygon points="329.0,410.5 317.0,416.5 318.3,410.5 317.0,404.5" fill="#8CCB6A"/>
<path d="M265,452.5 L319.0,452.5" fill="none" stroke="#548235" stroke-width="2"/>
<polygon points="329.0,452.5 317.0,458.5 318.3,452.5 317.0,446.5" fill="#548235"/>
<path d="M253,252.5 L253,262 L301.0,262.0" fill="none" stroke="#2E75B6" stroke-width="1.8"/>
<polygon points="311.0,262.0 299.0,268.0 300.3,262.0 299.0,256.0" fill="#2E75B6"/>
<path d="M231.7,252.5 L231.7,325 L301.0,325.0" fill="none" stroke="#74B8EC" stroke-width="1.8"/>
<polygon points="311.0,325.0 299.0,331.0 300.3,325.0 299.0,319.0" fill="#74B8EC"/>
<path d="M253.5,351.5 L253.5,300" fill="none" stroke="#8CCB6A" stroke-width="1.2" stroke-dasharray="3,2"/>
<path d="M253.5,300 L253.5,280 L301.0,280.0" fill="none" stroke="#8CCB6A" stroke-width="1.8"/>
<polygon points="311.0,280.0 299.0,286.0 300.3,280.0 299.0,274.0" fill="#8CCB6A"/>
<path d="M231.7,351.5 L231.7,343 L301.0,343.0" fill="none" stroke="#548235" stroke-width="1.8"/>
<polygon points="311.0,343.0 299.0,349.0 300.3,343.0 299.0,337.0" fill="#548235"/>
<path d="M241.8,510 L241.8,565.5 L895.8,565.5 L895.8,497.5" fill="none" stroke="#548235" stroke-width="1.6"/>
<polygon points="895.8,487.5 901.8,499.5 895.8,498.2 889.8,499.5" fill="#548235"/>
<polygon points="360,143 367,136 380,136 373,143" fill="#9DC3E6" stroke="#fff" stroke-width="0.6"/>
<polygon points="373,143 380,136 380,164 373,171" fill="#2E75B6" stroke="#fff" stroke-width="0.6"/>
<rect x="360" y="143" width="13" height="28" fill="#5B9BD5" stroke="#fff" stroke-width="0.6"/>
<polygon points="360,181 367,174 380,174 373,181" fill="#DDEBF7" stroke="#fff" stroke-width="0.6"/>
<polygon points="373,181 380,174 380,202 373,209" fill="#8FB8E0" stroke="#fff" stroke-width="0.6"/>
<rect x="360" y="181" width="13" height="28" fill="#BDD7EE" stroke="#fff" stroke-width="0.6"/>
<text x="332" y="161" font-size="21" font-weight="bold" font-style="italic" text-anchor="start" fill="#111" >F</text>
<path d="M337.8,144 L340.6,140.5 L343.40000000000003,144" fill="none" stroke="#111" stroke-width="1.1"/>
<text x="347.8" y="150.8" font-size="12.5" font-weight="normal" font-style="normal" text-anchor="start" fill="#111" >1</text>
<text x="344.8" y="166.7" font-size="12" font-weight="normal" font-style="italic" text-anchor="start" fill="#111" >vis</text>
<text x="332" y="198.5" font-size="21" font-weight="bold" font-style="italic" text-anchor="start" fill="#111" >F</text>
<path d="M337.8,181.5 L340.6,178.0 L343.40000000000003,181.5" fill="none" stroke="#111" stroke-width="1.1"/>
<text x="347.8" y="188.3" font-size="12.5" font-weight="normal" font-style="normal" text-anchor="start" fill="#111" >2</text>
<text x="344.8" y="204.2" font-size="12" font-weight="normal" font-style="italic" text-anchor="start" fill="#111" >vis</text>
<path d="M384,152 L413.0,152.0" fill="none" stroke="#2E75B6" stroke-width="2"/>
<polygon points="423.0,152.0 411.0,158.0 412.3,152.0 411.0,146.0" fill="#2E75B6"/>
<path d="M384,194 L413.0,194.0" fill="none" stroke="#74B8EC" stroke-width="2"/>
<polygon points="423.0,194.0 411.0,200.0 412.3,194.0 411.0,188.0" fill="#74B8EC"/>
<rect x="424.5" y="144.5" width="225" height="56.5" rx="13" fill="#FDEBDC" stroke="#F8A45A" stroke-width="2.2"/>
<text x="537" y="168" font-size="16" font-weight="normal" font-style="normal" text-anchor="middle" fill="#111" >Cross-Modality</text>
<text x="537" y="187.5" font-size="16" font-weight="normal" font-style="normal" text-anchor="middle" fill="#111" >Representation Block</text>
<rect x="384" y="54.5" width="305.5" height="75.5" fill="none" stroke="#555" stroke-width="1.3" stroke-dasharray="5,3.5"/>
<text x="413.5" y="75" font-size="16" font-weight="normal" font-style="normal" text-anchor="start" fill="#333" >Learnable IR Modality Dictionary</text>
<text x="638" y="75" font-size="21" font-weight="bold" font-style="italic" text-anchor="start" fill="#111" >D</text>
<text x="653.5" y="81" font-size="13" font-weight="normal" font-style="italic" text-anchor="start" fill="#111" >ir</text>
<path d="M537,130 L537.0,134.0" fill="none" stroke="#548235" stroke-width="1.8"/>
<polygon points="537.0,144.0 531.0,132.0 537.0,133.3 543.0,132.0" fill="#548235"/>
<polygon points="415,123 424,123 449,100 441,93" fill="#5a5f50" opacity="0.75" filter="url(#blur3)"/>
<polygon points="412,112 436,88 444,88 420,112" fill="#FFE699" stroke="#fff" stroke-width="0.7"/>
<polygon points="420,112 444,88 444,96 420,120" fill="#FFC828" stroke="#fff" stroke-width="0.7"/>
<rect x="412" y="112" width="8" height="8" fill="#FFD966" stroke="#fff" stroke-width="0.7"/>
<polygon points="440,123 449,123 474,100 466,93" fill="#5a5f50" opacity="0.75" filter="url(#blur3)"/>
<polygon points="437,112 461,88 469,88 445,112" fill="#BDD7EE" stroke="#fff" stroke-width="0.7"/>
<polygon points="445,112 469,88 469,96 445,120" fill="#6AA0D8" stroke="#fff" stroke-width="0.7"/>
<rect x="437" y="112" width="8" height="8" fill="#9DC3E6" stroke="#fff" stroke-width="0.7"/>
<polygon points="465,123 474,123 499,100 491,93" fill="#5a5f50" opacity="0.75" filter="url(#blur3)"/>
<polygon points="462,112 486,88 494,88 470,112" fill="#DCEBD0" stroke="#fff" stroke-width="0.7"/>
<polygon points="470,112 494,88 494,96 470,120" fill="#A9D18E" stroke="#fff" stroke-width="0.7"/>
<rect x="462" y="112" width="8" height="8" fill="#C5E0B4" stroke="#fff" stroke-width="0.7"/>
<polygon points="490,123 499,123 524,100 516,93" fill="#5a5f50" opacity="0.75" filter="url(#blur3)"/>
<polygon points="487,112 511,88 519,88 495,112" fill="#FFF0BE" stroke="#fff" stroke-width="0.7"/>
<polygon points="495,112 519,88 519,96 495,120" fill="#FFD966" stroke="#fff" stroke-width="0.7"/>
<rect x="487" y="112" width="8" height="8" fill="#FFE699" stroke="#fff" stroke-width="0.7"/>
<polygon points="557,123 566,123 591,100 583,93" fill="#5a5f50" opacity="0.75" filter="url(#blur3)"/>
<polygon points="554,112 578,88 586,88 562,112" fill="#C5E0B4" stroke="#fff" stroke-width="0.7"/>
<polygon points="562,112 586,88 586,96 562,120" fill="#70AD47" stroke="#fff" stroke-width="0.7"/>
<rect x="554" y="112" width="8" height="8" fill="#A9D18E" stroke="#fff" stroke-width="0.7"/>
<polygon points="582,123 591,123 616,100 608,93" fill="#5a5f50" opacity="0.75" filter="url(#blur3)"/>
<polygon points="579,112 603,88 611,88 587,112" fill="#F8CBAD" stroke="#fff" stroke-width="0.7"/>
<polygon points="587,112 611,88 611,96 587,120" fill="#F4A46E" stroke="#fff" stroke-width="0.7"/>
<rect x="579" y="112" width="8" height="8" fill="#F4B183" stroke="#fff" stroke-width="0.7"/>
<polygon points="606,123 615,123 640,100 632,93" fill="#5a5f50" opacity="0.75" filter="url(#blur3)"/>
<polygon points="603,112 627,88 635,88 611,112" fill="#D0DCF0" stroke="#fff" stroke-width="0.7"/>
<polygon points="611,112 635,88 635,96 611,120" fill="#8FAADC" stroke="#fff" stroke-width="0.7"/>
<rect x="603" y="112" width="8" height="8" fill="#B4C7E7" stroke="#fff" stroke-width="0.7"/>
<polygon points="631,123 640,123 665,100 657,93" fill="#5a5f50" opacity="0.75" filter="url(#blur3)"/>
<polygon points="628,112 652,88 660,88 636,112" fill="#FDF0E6" stroke="#fff" stroke-width="0.7"/>
<polygon points="636,112 660,88 660,96 636,120" fill="#F8CBAD" stroke="#fff" stroke-width="0.7"/>
<rect x="628" y="112" width="8" height="8" fill="#FBE5D6" stroke="#fff" stroke-width="0.7"/>
<circle cx="530.0" cy="103" r="2" fill="#548235"/>
<circle cx="538.5" cy="103" r="2" fill="#548235"/>
<circle cx="547.0" cy="103" r="2" fill="#548235"/>
<path d="M650,152 L678.0,152.0" fill="none" stroke="#2E75B6" stroke-width="2"/>
<polygon points="688.0,152.0 676.0,158.0 677.3,152.0 676.0,146.0" fill="#2E75B6"/>
<path d="M650,194 L678.0,194.0" fill="none" stroke="#74B8EC" stroke-width="2"/>
<polygon points="688.0,194.0 676.0,200.0 677.3,194.0 676.0,188.0" fill="#74B8EC"/>
<text x="691.5" y="156" font-size="21" font-weight="bold" font-style="italic" text-anchor="start" fill="#111" >F</text>
<path d="M697.3000000000001,139 L700.1,135.5 L702.9,139" fill="none" stroke="#111" stroke-width="1.1"/>
<text x="707.3" y="145.8" font-size="12.5" font-weight="normal" font-style="normal" text-anchor="start" fill="#111" >1</text>
<text x="704.3" y="161.7" font-size="12" font-weight="normal" font-style="italic" text-anchor="start" fill="#111" >vis‹&#160;&#160;&#160;ir</text>
<text x="691.5" y="200.5" font-size="21" font-weight="bold" font-style="italic" text-anchor="start" fill="#111" >F</text>
<path d="M697.3000000000001,183.5 L700.1,180.0 L702.9,183.5" fill="none" stroke="#111" stroke-width="1.1"/>
<text x="707.3" y="190.3" font-size="12.5" font-weight="normal" font-style="normal" text-anchor="start" fill="#111" >2</text>
<text x="704.3" y="206.2" font-size="12" font-weight="normal" font-style="italic" text-anchor="start" fill="#111" >vis</text>
<path d="M718,206 L728.5,206 M720.5,203.4 L717.6,206 L720.5,208.6" fill="none" stroke="#111" stroke-width="1"/>
<text x="729.5" y="206.3" font-size="12" font-weight="normal" font-style="italic" text-anchor="start" fill="#111" >ir</text>
<polygon points="742,143 749,136 762,136 755,143" fill="#9DC3E6" stroke="#fff" stroke-width="0.6"/>
<polygon points="755,143 762,136 762,164 755,171" fill="#2E75B6" stroke="#fff" stroke-width="0.6"/>
<rect x="742" y="143" width="13" height="28" fill="url(#gvis)" stroke="#fff" stroke-width="0.6"/>
<polygon points="742,181 749,174 762,174 755,181" fill="#DDEBF7" stroke="#fff" stroke-width="0.6"/>
<polygon points="755,181 762,174 762,202 755,209" fill="#9DC3E6" stroke="#fff" stroke-width="0.6"/>
<rect x="742" y="181" width="13" height="28" fill="url(#gvis)" stroke="#fff" stroke-width="0.6"/>
<path d="M761,152 L815,152 L815.0,192.0" fill="none" stroke="#2E75B6" stroke-width="2"/>
<polygon points="815.0,202.0 809.0,190.0 815.0,191.3 821.0,190.0" fill="#2E75B6"/>
<polygon points="318,260 325,253 338,253 331,260" fill="#9DC3E6" stroke="#fff" stroke-width="0.6"/>
<polygon points="331,260 338,253 338,281 331,288" fill="#2E75B6" stroke="#fff" stroke-width="0.6"/>
<rect x="318" y="260" width="13" height="28" fill="#5B9BD5" stroke="#fff" stroke-width="0.6"/>
<polygon points="348,260 355,253 368,253 361,260" fill="#E2F0D9" stroke="#fff" stroke-width="0.6"/>
<polygon points="361,260 368,253 368,281 361,288" fill="#A9D18E" stroke="#fff" stroke-width="0.6"/>
<rect x="348" y="260" width="13" height="28" fill="#C5E0B4" stroke="#fff" stroke-width="0.6"/>
<polygon points="318,322 325,315 338,315 331,322" fill="#DDEBF7" stroke="#fff" stroke-width="0.6"/>
<polygon points="331,322 338,315 338,343 331,350" fill="#8FB8E0" stroke="#fff" stroke-width="0.6"/>
<rect x="318" y="322" width="13" height="28" fill="#BDD7EE" stroke="#fff" stroke-width="0.6"/>
<polygon points="348,322 355,315 368,315 361,322" fill="#A9D18E" stroke="#fff" stroke-width="0.6"/>
<polygon points="361,322 368,315 368,343 361,350" fill="#548235" stroke="#fff" stroke-width="0.6"/>
<rect x="348" y="322" width="13" height="28" fill="#70AD47" stroke="#fff" stroke-width="0.6"/>
<text x="316" y="245" font-size="21" font-weight="bold" font-style="italic" text-anchor="start" fill="#111" >F</text>
<path d="M321.8,228 L324.6,224.5 L327.40000000000003,228" fill="none" stroke="#111" stroke-width="1.1"/>
<text x="331.8" y="234.8" font-size="12.5" font-weight="normal" font-style="normal" text-anchor="start" fill="#111" >1</text>
<text x="328.8" y="250.7" font-size="12" font-weight="normal" font-style="italic" text-anchor="start" fill="#111" >vis</text>
<text x="348.5" y="245" font-size="21" font-weight="bold" font-style="italic" text-anchor="start" fill="#111" >F</text>
<path d="M354.3,228 L357.1,224.5 L359.90000000000003,228" fill="none" stroke="#111" stroke-width="1.1"/>
<text x="364.3" y="234.8" font-size="12.5" font-weight="normal" font-style="normal" text-anchor="start" fill="#111" >1</text>
<text x="361.3" y="250.7" font-size="12" font-weight="normal" font-style="italic" text-anchor="start" fill="#111" >ir</text>
<text x="316" y="373" font-size="21" font-weight="bold" font-style="italic" text-anchor="start" fill="#111" >F</text>
<path d="M321.8,356 L324.6,352.5 L327.40000000000003,356" fill="none" stroke="#111" stroke-width="1.1"/>
<text x="331.8" y="362.8" font-size="12.5" font-weight="bold" font-style="normal" text-anchor="start" fill="#111" >2</text>
<text x="328.8" y="378.7" font-size="12" font-weight="normal" font-style="italic" text-anchor="start" fill="#111" >vis</text>
<text x="348.5" y="373" font-size="21" font-weight="bold" font-style="italic" text-anchor="start" fill="#111" >F</text>
<path d="M354.3,356 L357.1,352.5 L359.90000000000003,356" fill="none" stroke="#111" stroke-width="1.1"/>
<text x="364.3" y="362.8" font-size="12.5" font-weight="bold" font-style="normal" text-anchor="start" fill="#111" >2</text>
<text x="361.3" y="378.7" font-size="12" font-weight="normal" font-style="italic" text-anchor="start" fill="#111" >ir</text>
<path d="M372,267 L403.0,267.0" fill="none" stroke="#31859C" stroke-width="2"/>
<polygon points="413.0,267.0 401.0,273.0 402.3,267.0 401.0,261.0" fill="#31859C"/>
<path d="M372,335 L403.0,335.0" fill="none" stroke="#8FD8EA" stroke-width="2"/>
<polygon points="413.0,335.0 401.0,341.0 402.3,335.0 401.0,329.0" fill="#8FD8EA"/>
<rect x="414.5" y="225.5" width="46.5" height="151.5" fill="#DDEFEE" stroke="#86C3B8" stroke-width="2"/>
<text x="437.7" y="301" font-size="16" text-anchor="middle" dominant-baseline="central" transform="rotate(90 437.7 301)" fill="#222">Feature Fusion</text>
<path d="M463,267 L493.0,267.0" fill="none" stroke="#31859C" stroke-width="2"/>
<polygon points="503.0,267.0 491.0,273.0 492.3,267.0 491.0,261.0" fill="#31859C"/>
<path d="M463,335 L493.0,335.0" fill="none" stroke="#8FD8EA" stroke-width="2"/>
<polygon points="503.0,335.0 491.0,341.0 492.3,335.0 491.0,329.0" fill="#8FD8EA"/>
<polygon points="504,257 511,250 524,250 517,257" fill="#FBE5D6" stroke="#fff" stroke-width="0.6"/>
<polygon points="517,257 524,250 524,278 517,285" fill="#F4B183" stroke="#fff" stroke-width="0.6"/>
<rect x="504" y="257" width="13" height="28" fill="#F8CBAD" stroke="#fff" stroke-width="0.6"/>
<polygon points="504,324.5 511,317.5 524,317.5 517,324.5" fill="#F8CBAD" stroke="#fff" stroke-width="0.6"/>
<polygon points="517,324.5 524,317.5 524,345.5 517,352.5" fill="#EF8F4E" stroke="#fff" stroke-width="0.6"/>
<rect x="504" y="324.5" width="13" height="28" fill="#F4B183" stroke="#fff" stroke-width="0.6"/>
<text x="503.5" y="240" font-size="21" font-weight="bold" font-style="italic" text-anchor="start" fill="#111" >F</text>
<text x="518.3" y="229.8" font-size="12.5" font-weight="normal" font-style="normal" text-anchor="start" fill="#111" >1</text>
<text x="516.3" y="247.7" font-size="12" font-weight="normal" font-style="italic" text-anchor="start" fill="#111" >f</text>
<text x="500.5" y="373" font-size="21" font-weight="bold" font-style="italic" text-anchor="start" fill="#111" >F</text>
<text x="518.3" y="362.8" font-size="12.5" font-weight="bold" font-style="normal" text-anchor="start" fill="#111" >2</text>
<text x="515.3" y="380.7" font-size="12" font-weight="normal" font-style="italic" text-anchor="start" fill="#111" >f</text>
<path d="M533,262 L601,234.5" fill="none" stroke="#2E75B6" stroke-width="1.7" stroke-dasharray="3.2,2.6"/>
<path d="M601,234.5 L675,205" fill="none" stroke="#2E75B6" stroke-width="1.7" stroke-dasharray="3.2,2.6"/>
<polygon points="601.0,234.5 590.9,245.6 589.7,239.1 586.0,233.5" fill="#2E75B6"/>
<polygon points="601.0,234.5 611.1,223.4 612.3,229.9 616.0,235.5" fill="#2E75B6"/>
<path d="M541,329 L622.5,270.5" fill="none" stroke="#74B8EC" stroke-width="1.7" stroke-dasharray="3.2,2.6"/>
<path d="M622.5,270.5 L699,215" fill="none" stroke="#74B8EC" stroke-width="1.7" stroke-dasharray="3.2,2.6"/>
<polygon points="622.5,270.5 615.3,283.7 612.6,277.6 607.7,273.1" fill="#74B8EC"/>
<polygon points="622.5,270.5 629.7,257.3 632.4,263.4 637.3,267.9" fill="#74B8EC"/>
<path d="M534.5,279 L622.5,344.5" fill="none" stroke="#8CCB6A" stroke-width="1.7" stroke-dasharray="3.2,2.6"/>
<path d="M622.5,344.5 L686,388.5" fill="none" stroke="#8CCB6A" stroke-width="1.7" stroke-dasharray="3.2,2.6"/>
<polygon points="622.5,344.5 607.8,341.7 612.7,337.2 615.6,331.2" fill="#8CCB6A"/>
<polygon points="622.5,344.5 637.2,347.3 632.3,351.8 629.4,357.8" fill="#8CCB6A"/>
<path d="M533.5,349.5 L599.5,376" fill="none" stroke="#548235" stroke-width="1.7" stroke-dasharray="3.2,2.6"/>
<path d="M599.5,376 L663,402" fill="none" stroke="#548235" stroke-width="1.7" stroke-dasharray="3.2,2.6"/>
<polygon points="599.5,376.0 584.6,377.0 588.2,371.5 589.4,364.9" fill="#548235"/>
<polygon points="599.5,376.0 614.4,375.0 610.8,380.5 609.6,387.1" fill="#548235"/>
<path d="M741.5,212 L741.5,292" fill="none" stroke="#74B8EC" stroke-width="1.7" stroke-dasharray="3.2,2.6"/>
<polygon points="741.5,303.0 736.0,291.0 741.5,292.3 747.0,291.0" fill="#74B8EC"/>
<path d="M761.7,212 L761.7,292" fill="none" stroke="#2E75B6" stroke-width="1.7" stroke-dasharray="3.2,2.6"/>
<polygon points="761.7,303.0 756.2,291.0 761.7,292.3 767.2,291.0" fill="#2E75B6"/>
<path d="M741.5,393 L741.5,314" fill="none" stroke="#548235" stroke-width="1.7" stroke-dasharray="3.2,2.6"/>
<polygon points="741.5,303.0 747.0,315.0 741.5,313.7 736.0,315.0" fill="#548235"/>
<path d="M761.7,393 L761.7,314" fill="none" stroke="#8CCB6A" stroke-width="1.7" stroke-dasharray="3.2,2.6"/>
<polygon points="761.7,303.0 767.2,315.0 761.7,313.7 756.2,315.0" fill="#8CCB6A"/>
<text x="618" y="306.5" font-size="16" font-weight="normal" font-style="normal" text-anchor="start" fill="#111" >Consistent Loss</text>
<polygon points="360.5,403 367.5,396 380.5,396 373.5,403" fill="#E2F0D9" stroke="#fff" stroke-width="0.6"/>
<polygon points="373.5,403 380.5,396 380.5,424 373.5,431" fill="#A9D18E" stroke="#fff" stroke-width="0.6"/>
<rect x="360.5" y="403" width="13" height="28" fill="#C5E0B4" stroke="#fff" stroke-width="0.6"/>
<polygon points="360.5,441.5 367.5,434.5 380.5,434.5 373.5,441.5" fill="#A9D18E" stroke="#fff" stroke-width="0.6"/>
<polygon points="373.5,441.5 380.5,434.5 380.5,462.5 373.5,469.5" fill="#548235" stroke="#fff" stroke-width="0.6"/>
<rect x="360.5" y="441.5" width="13" height="28" fill="#70AD47" stroke="#fff" stroke-width="0.6"/>
<text x="333.5" y="421.2" font-size="21" font-weight="bold" font-style="italic" text-anchor="start" fill="#111" >F</text>
<path d="M339.3,404.2 L342.1,400.7 L344.90000000000003,404.2" fill="none" stroke="#111" stroke-width="1.1"/>
<text x="349.3" y="411.0" font-size="12.5" font-weight="normal" font-style="normal" text-anchor="start" fill="#111" >1</text>
<text x="346.3" y="426.9" font-size="12" font-weight="normal" font-style="italic" text-anchor="start" fill="#111" >ir</text>
<text x="333.5" y="460.8" font-size="21" font-weight="bold" font-style="italic" text-anchor="start" fill="#111" >F</text>
<path d="M339.3,443.8 L342.1,440.3 L344.90000000000003,443.8" fill="none" stroke="#111" stroke-width="1.1"/>
<text x="349.3" y="450.6" font-size="12.5" font-weight="bold" font-style="normal" text-anchor="start" fill="#111" >2</text>
<text x="346.3" y="466.5" font-size="12" font-weight="normal" font-style="italic" text-anchor="start" fill="#111" >ir</text>
<path d="M384,410.5 L414.0,410.5" fill="none" stroke="#8CCB6A" stroke-width="2"/>
<polygon points="424.0,410.5 412.0,416.5 413.3,410.5 412.0,404.5" fill="#8CCB6A"/>
<path d="M384,452.5 L414.0,452.5" fill="none" stroke="#548235" stroke-width="2"/>
<polygon points="424.0,452.5 412.0,458.5 413.3,452.5 412.0,446.5" fill="#548235"/>
<rect x="424.5" y="402.5" width="225" height="56.5" rx="13" fill="#FDEBDC" stroke="#F8A45A" stroke-width="2.2"/>
<text x="537" y="426" font-size="16" font-weight="normal" font-style="normal" text-anchor="middle" fill="#111" >Cross-Modality</text>
<text x="537" y="445.5" font-size="16" font-weight="normal" font-style="normal" text-anchor="middle" fill="#111" >Representation Block</text>
<rect x="384" y="474.5" width="305.5" height="75.5" fill="none" stroke="#555" stroke-width="1.3" stroke-dasharray="5,3.5"/>
<text x="407" y="495.5" font-size="16" font-weight="normal" font-style="normal" text-anchor="start" fill="#333" >Learnable VIS Modality Dictionary</text>
<text x="641" y="495.5" font-size="21" font-weight="bold" font-style="italic" text-anchor="start" fill="#111" >D</text>
<text x="657" y="502" font-size="13" font-weight="normal" font-style="italic" text-anchor="start" fill="#111" >vis</text>
<path d="M536.5,474.5 L536.5,469.5" fill="none" stroke="#2E75B6" stroke-width="1.8"/>
<polygon points="536.5,459.5 542.5,471.5 536.5,470.2 530.5,471.5" fill="#2E75B6"/>
<polygon points="414,541.5 423,541.5 448,518.5 440,511.5" fill="#5a5f50" opacity="0.75" filter="url(#blur3)"/>
<polygon points="411,530.5 435,506.5 443,506.5 419,530.5" fill="#F8CBAD" stroke="#fff" stroke-width="0.7"/>
<polygon points="419,530.5 443,506.5 443,514.5 419,538.5" fill="#EE8F4C" stroke="#fff" stroke-width="0.7"/>
<rect x="411" y="530.5" width="8" height="8" fill="#F4B183" stroke="#fff" stroke-width="0.7"/>
<polygon points="439,541.5 448,541.5 473,518.5 465,511.5" fill="#5a5f50" opacity="0.75" filter="url(#blur3)"/>
<polygon points="436,530.5 460,506.5 468,506.5 444,530.5" fill="#C5E0B4" stroke="#fff" stroke-width="0.7"/>
<polygon points="444,530.5 468,506.5 468,514.5 444,538.5" fill="#70AD47" stroke="#fff" stroke-width="0.7"/>
<rect x="436" y="530.5" width="8" height="8" fill="#A9D18E" stroke="#fff" stroke-width="0.7"/>
<polygon points="464,541.5 473,541.5 498,518.5 490,511.5" fill="#5a5f50" opacity="0.75" filter="url(#blur3)"/>
<polygon points="461,530.5 485,506.5 493,506.5 469,530.5" fill="#EAF2FA" stroke="#fff" stroke-width="0.7"/>
<polygon points="469,530.5 493,506.5 493,514.5 469,538.5" fill="#9DC3E6" stroke="#fff" stroke-width="0.7"/>
<rect x="461" y="530.5" width="8" height="8" fill="#DDEBF7" stroke="#fff" stroke-width="0.7"/>
<polygon points="488.5,541.5 497.5,541.5 522.5,518.5 514.5,511.5" fill="#5a5f50" opacity="0.75" filter="url(#blur3)"/>
<polygon points="485.5,530.5 509.5,506.5 517.5,506.5 493.5,530.5" fill="#FBE0CF" stroke="#fff" stroke-width="0.7"/>
<polygon points="493.5,530.5 517.5,506.5 517.5,514.5 493.5,538.5" fill="#F4B183" stroke="#fff" stroke-width="0.7"/>
<rect x="485.5" y="530.5" width="8" height="8" fill="#F8CBAD" stroke="#fff" stroke-width="0.7"/>
<polygon points="554,541.5 563,541.5 588,518.5 580,511.5" fill="#5a5f50" opacity="0.75" filter="url(#blur3)"/>
<polygon points="551,530.5 575,506.5 583,506.5 559,530.5" fill="#BDD7EE" stroke="#fff" stroke-width="0.7"/>
<polygon points="559,530.5 583,506.5 583,514.5 559,538.5" fill="#5B9BD5" stroke="#fff" stroke-width="0.7"/>
<rect x="551" y="530.5" width="8" height="8" fill="#9DC3E6" stroke="#fff" stroke-width="0.7"/>
<polygon points="578,541.5 587,541.5 612,518.5 604,511.5" fill="#5a5f50" opacity="0.75" filter="url(#blur3)"/>
<polygon points="575,530.5 599,506.5 607,506.5 583,530.5" fill="#FFF0C2" stroke="#fff" stroke-width="0.7"/>
<polygon points="583,530.5 607,506.5 607,514.5 583,538.5" fill="#FFD966" stroke="#fff" stroke-width="0.7"/>
<rect x="575" y="530.5" width="8" height="8" fill="#FFE699" stroke="#fff" stroke-width="0.7"/>
<polygon points="602,541.5 611,541.5 636,518.5 628,511.5" fill="#5a5f50" opacity="0.75" filter="url(#blur3)"/>
<polygon points="599,530.5 623,506.5 631,506.5 607,530.5" fill="#D0DCF0" stroke="#fff" stroke-width="0.7"/>
<polygon points="607,530.5 631,506.5 631,514.5 607,538.5" fill="#8FAADC" stroke="#fff" stroke-width="0.7"/>
<rect x="599" y="530.5" width="8" height="8" fill="#B4C7E7" stroke="#fff" stroke-width="0.7"/>
<polygon points="627.5,541.5 636.5,541.5 661.5,518.5 653.5,511.5" fill="#5a5f50" opacity="0.75" filter="url(#blur3)"/>
<polygon points="624.5,530.5 648.5,506.5 656.5,506.5 632.5,530.5" fill="#FFE699" stroke="#fff" stroke-width="0.7"/>
<polygon points="632.5,530.5 656.5,506.5 656.5,514.5 632.5,538.5" fill="#FFC000" stroke="#fff" stroke-width="0.7"/>
<rect x="624.5" y="530.5" width="8" height="8" fill="#FFD966" stroke="#fff" stroke-width="0.7"/>
<circle cx="528.0" cy="522.5" r="2" fill="#2E75B6"/>
<circle cx="536.5" cy="522.5" r="2" fill="#2E75B6"/>
<circle cx="545.0" cy="522.5" r="2" fill="#2E75B6"/>
<path d="M650,410.5 L678.0,410.5" fill="none" stroke="#8CCB6A" stroke-width="2"/>
<polygon points="688.0,410.5 676.0,416.5 677.3,410.5 676.0,404.5" fill="#8CCB6A"/>
<path d="M650,452.5 L678.0,452.5" fill="none" stroke="#548235" stroke-width="2"/>
<polygon points="688.0,452.5 676.0,458.5 677.3,452.5 676.0,446.5" fill="#548235"/>
<text x="691.5" y="414" font-size="21" font-weight="bold" font-style="italic" text-anchor="start" fill="#111" >F</text>
<path d="M697.3000000000001,397 L700.1,393.5 L702.9,397" fill="none" stroke="#111" stroke-width="1.1"/>
<text x="707.3" y="403.8" font-size="12.5" font-weight="normal" font-style="normal" text-anchor="start" fill="#111" >1</text>
<text x="704.3" y="419.7" font-size="12" font-weight="normal" font-style="italic" text-anchor="start" fill="#111" >ir‹&#160;&#160;&#160;vis</text>
<text x="691.5" y="459.5" font-size="21" font-weight="bold" font-style="italic" text-anchor="start" fill="#111" >F</text>
<path d="M697.3000000000001,442.5 L700.1,439.0 L702.9,442.5" fill="none" stroke="#111" stroke-width="1.1"/>
<text x="707.3" y="449.3" font-size="12.5" font-weight="normal" font-style="normal" text-anchor="start" fill="#111" >2</text>
<text x="704.3" y="465.2" font-size="12" font-weight="normal" font-style="italic" text-anchor="start" fill="#111" >ir‹&#160;&#160;&#160;vis</text>
<polygon points="742,403.5 749,396.5 762,396.5 755,403.5" fill="#E2F0D9" stroke="#fff" stroke-width="0.6"/>
<polygon points="755,403.5 762,396.5 762,424.5 755,431.5" fill="#A9D18E" stroke="#fff" stroke-width="0.6"/>
<rect x="742" y="403.5" width="13" height="28" fill="url(#gir)" stroke="#fff" stroke-width="0.6"/>
<polygon points="742,441.5 749,434.5 762,434.5 755,441.5" fill="#A9D18E" stroke="#fff" stroke-width="0.6"/>
<polygon points="755,441.5 762,434.5 762,462.5 755,469.5" fill="#548235" stroke="#fff" stroke-width="0.6"/>
<rect x="742" y="441.5" width="13" height="28" fill="url(#gir)" stroke="#fff" stroke-width="0.6"/>
<path d="M761,452.5 L817.5,452.5 L817.5,407.5" fill="none" stroke="#548235" stroke-width="2"/>
<polygon points="817.5,397.5 823.5,409.5 817.5,408.2 811.5,409.5" fill="#548235"/>
<rect x="797" y="203" width="64" height="194" fill="#FFFEF1" stroke="#FFD966" stroke-width="2.5"/>
<text x="829" y="300" font-size="16" text-anchor="middle" transform="rotate(90 829 300)" fill="#222"><tspan x="829" dy="-6">Cross-Modality</tspan><tspan x="829" dy="19.5">Alignment Perception</tspan></text>
<rect x="879.5" y="235" width="63" height="130" fill="#FFF2CC" stroke="#FFD966" stroke-width="2.5"/>
<text x="911" y="300" font-size="16" text-anchor="middle" transform="rotate(90 911 300)" fill="#222"><tspan x="911" dy="-5.5">Feature</tspan><tspan x="911" dy="19.5">Reorganization</tspan></text>
<rect x="965" y="252.5" width="55.5" height="96" fill="#FDEBD8" stroke="#F9C652" stroke-width="2.5"/>
<text x="994.2" y="300.5" font-size="16" text-anchor="middle" dominant-baseline="central" transform="rotate(90 994.2 300.5)" fill="#222">Fusion</text>
<path d="M843,203 L843,134.5 L870,134.5" fill="none" stroke="#C98B3C" stroke-width="1.8"/>
<polygon points="882.0,134.5 870.0,140.5 871.3,134.5 870.0,128.5" fill="#C98B3C"/>
<rect x="891" y="108" width="52" height="52" fill="#555" opacity="0.55" filter="url(#blur3)"/>
<rect x="888" y="104.5" width="52" height="52" fill="#fff" stroke="#888" stroke-width="0.8"/>
<rect x="888.50" y="105.00" width="7.65" height="7.65" fill="#C5E0B4"/>
<rect x="897.15" y="105.00" width="7.65" height="7.65" fill="#E2F0D9"/>
<rect x="905.80" y="105.00" width="7.65" height="7.65" fill="#C5E0B4"/>
<rect x="914.45" y="105.00" width="7.65" height="7.65" fill="#E2F0D9"/>
<rect x="923.10" y="105.00" width="7.65" height="7.65" fill="#A9D18E"/>
<rect x="931.75" y="105.00" width="7.65" height="7.65" fill="#C5E0B4"/>
<rect x="888.50" y="113.65" width="7.65" height="7.65" fill="#E2F0D9"/>
<rect x="897.15" y="113.65" width="7.65" height="7.65" fill="#C5E0B4"/>
<rect x="905.80" y="113.65" width="7.65" height="7.65" fill="#E2F0D9"/>
<rect x="914.45" y="113.65" width="7.65" height="7.65" fill="#A9D18E"/>
<rect x="923.10" y="113.65" width="7.65" height="7.65" fill="#C5E0B4"/>
<rect x="931.75" y="113.65" width="7.65" height="7.65" fill="#70AD47"/>
<rect x="888.50" y="122.30" width="7.65" height="7.65" fill="#C5E0B4"/>
<rect x="897.15" y="122.30" width="7.65" height="7.65" fill="#E2F0D9"/>
<rect x="905.80" y="122.30" width="7.65" height="7.65" fill="#A9D18E"/>
<rect x="914.45" y="122.30" width="7.65" height="7.65" fill="#E2F0D9"/>
<rect x="923.10" y="122.30" width="7.65" height="7.65" fill="#C5E0B4"/>
<rect x="931.75" y="122.30" width="7.65" height="7.65" fill="#C5E0B4"/>
<rect x="888.50" y="130.95" width="7.65" height="7.65" fill="#E2F0D9"/>
<rect x="897.15" y="130.95" width="7.65" height="7.65" fill="#A9D18E"/>
<rect x="905.80" y="130.95" width="7.65" height="7.65" fill="#C5E0B4"/>
<rect x="914.45" y="130.95" width="7.65" height="7.65" fill="#E2F0D9"/>
<rect x="923.10" y="130.95" width="7.65" height="7.65" fill="#C5E0B4"/>
<rect x="931.75" y="130.95" width="7.65" height="7.65" fill="#A9D18E"/>
<rect x="888.50" y="139.60" width="7.65" height="7.65" fill="#A9D18E"/>
<rect x="897.15" y="139.60" width="7.65" height="7.65" fill="#E2F0D9"/>
<rect x="905.80" y="139.60" width="7.65" height="7.65" fill="#C5E0B4"/>
<rect x="914.45" y="139.60" width="7.65" height="7.65" fill="#C5E0B4"/>
<rect x="923.10" y="139.60" width="7.65" height="7.65" fill="#E2F0D9"/>
<rect x="931.75" y="139.60" width="7.65" height="7.65" fill="#70AD47"/>
<rect x="888.50" y="148.25" width="7.65" height="7.65" fill="#C5E0B4"/>
<rect x="897.15" y="148.25" width="7.65" height="7.65" fill="#C5E0B4"/>
<rect x="905.80" y="148.25" width="7.65" height="7.65" fill="#E2F0D9"/>
<rect x="914.45" y="148.25" width="7.65" height="7.65" fill="#A9D18E"/>
<rect x="923.10" y="148.25" width="7.65" height="7.65" fill="#C5E0B4"/>
<rect x="931.75" y="148.25" width="7.65" height="7.65" fill="#E2F0D9"/>
<rect x="885" y="114" width="52" height="52" fill="#444" opacity="0.5" filter="url(#blur3)"/>
<rect x="882.3" y="111" width="51.8" height="52" fill="#fff" stroke="#777" stroke-width="0.8"/>
<rect x="882.80" y="111.50" width="7.65" height="7.65" fill="#5B9BD5"/>
<rect x="891.45" y="111.50" width="7.65" height="7.65" fill="#DDEBF7"/>
<rect x="900.10" y="111.50" width="7.65" height="7.65" fill="#BDD7EE"/>
<rect x="908.75" y="111.50" width="7.65" height="7.65" fill="#9DC3E6"/>
<rect x="917.40" y="111.50" width="7.65" height="7.65" fill="#DDEBF7"/>
<rect x="926.05" y="111.50" width="7.65" height="7.65" fill="#BDD7EE"/>
<rect x="882.80" y="120.15" width="7.65" height="7.65" fill="#BDD7EE"/>
<rect x="891.45" y="120.15" width="7.65" height="7.65" fill="#BDD7EE"/>
<rect x="900.10" y="120.15" width="7.65" height="7.65" fill="#DDEBF7"/>
<rect x="908.75" y="120.15" width="7.65" height="7.65" fill="#BDD7EE"/>
<rect x="917.40" y="120.15" width="7.65" height="7.65" fill="#9DC3E6"/>
<rect x="926.05" y="120.15" width="7.65" height="7.65" fill="#5B9BD5"/>
<rect x="882.80" y="128.80" width="7.65" height="7.65" fill="#DDEBF7"/>
<rect x="891.45" y="128.80" width="7.65" height="7.65" fill="#9DC3E6"/>
<rect x="900.10" y="128.80" width="7.65" height="7.65" fill="#BDD7EE"/>
<rect x="908.75" y="128.80" width="7.65" height="7.65" fill="#9DC3E6"/>
<rect x="917.40" y="128.80" width="7.65" height="7.65" fill="#DDEBF7"/>
<rect x="926.05" y="128.80" width="7.65" height="7.65" fill="#DDEBF7"/>
<rect x="882.80" y="137.45" width="7.65" height="7.65" fill="#9DC3E6"/>
<rect x="891.45" y="137.45" width="7.65" height="7.65" fill="#DDEBF7"/>
<rect x="900.10" y="137.45" width="7.65" height="7.65" fill="#DDEBF7"/>
<rect x="908.75" y="137.45" width="7.65" height="7.65" fill="#5B9BD5"/>
<rect x="917.40" y="137.45" width="7.65" height="7.65" fill="#9DC3E6"/>
<rect x="926.05" y="137.45" width="7.65" height="7.65" fill="#BDD7EE"/>
<rect x="882.80" y="146.10" width="7.65" height="7.65" fill="#DDEBF7"/>
<rect x="891.45" y="146.10" width="7.65" height="7.65" fill="#5B9BD5"/>
<rect x="900.10" y="146.10" width="7.65" height="7.65" fill="#5B9BD5"/>
<rect x="908.75" y="146.10" width="7.65" height="7.65" fill="#9DC3E6"/>
<rect x="917.40" y="146.10" width="7.65" height="7.65" fill="#BDD7EE"/>
<rect x="926.05" y="146.10" width="7.65" height="7.65" fill="#9DC3E6"/>
<rect x="882.80" y="154.75" width="7.65" height="7.65" fill="#DDEBF7"/>
<rect x="891.45" y="154.75" width="7.65" height="7.65" fill="#5B9BD5"/>
<rect x="900.10" y="154.75" width="7.65" height="7.65" fill="#BDD7EE"/>
<rect x="908.75" y="154.75" width="7.65" height="7.65" fill="#5B9BD5"/>
<rect x="917.40" y="154.75" width="7.65" height="7.65" fill="#9DC3E6"/>
<rect x="926.05" y="154.75" width="7.65" height="7.65" fill="#DDEBF7"/>
<text x="885.5" y="90.7" font-size="22" font-weight="bold" font-style="italic" text-anchor="start" fill="#111" >P</text>
<text x="897.8" y="95.8" font-size="12" fill="#111"><tspan font-style="italic">vis</tspan><tspan font-weight="bold" dx="1.2">1</tspan><tspan font-style="italic">,</tspan><tspan font-style="italic" dx="1">ir</tspan><tspan font-weight="bold" dx="0.8">2</tspan></text>
<path d="M911,163 L911.0,225.0" fill="none" stroke="#C98B3C" stroke-width="1.8"/>
<polygon points="911.0,235.0 905.0,223.0 911.0,224.3 917.0,223.0" fill="#C98B3C"/>
<polygon points="982,121 989,114 1002,114 995,121" fill="#9DC3E6" stroke="#fff" stroke-width="0.6"/>
<polygon points="995,121 1002,114 1002,142 995,149" fill="#2E75B6" stroke="#fff" stroke-width="0.6"/>
<rect x="982" y="121" width="13" height="28" fill="#5B9BD5" stroke="#fff" stroke-width="0.6"/>
<text x="1008" y="136.5" font-size="21" font-weight="bold" font-style="italic" text-anchor="start" fill="#111" >F</text>
<path d="M1013.1,119.0 C1014.1,116.5 1015.6,117.0 1016.6,118.0 S1019.1,119.0 1020.1,116.8" fill="none" stroke="#111" stroke-width="1.2"/>
<text x="1023.8" y="126.3" font-size="12.5" font-weight="normal" font-style="normal" text-anchor="start" fill="#111" >1</text>
<text x="1020.8" y="142.2" font-size="12" font-weight="normal" font-style="italic" text-anchor="start" fill="#111" >vis</text>
<path d="M926,365 L926,468 L972.0,468.0" fill="none" stroke="#548235" stroke-width="1.8"/>
<polygon points="982.0,468.0 970.0,474.0 971.3,468.0 970.0,462.0" fill="#548235"/>
<polygon points="982,457.5 989,450.5 1002,450.5 995,457.5" fill="#A9D18E" stroke="#fff" stroke-width="0.6"/>
<polygon points="995,457.5 1002,450.5 1002,478.5 995,485.5" fill="#548235" stroke="#fff" stroke-width="0.6"/>
<rect x="982" y="457.5" width="13" height="28" fill="#70AD47" stroke="#fff" stroke-width="0.6"/>
<text x="1006.5" y="472.5" font-size="21" font-weight="bold" font-style="italic" text-anchor="start" fill="#111" >F</text>
<path d="M1011.6,455.0 C1012.6,452.5 1014.1,453.0 1015.1,454.0 S1017.6,455.0 1018.6,452.8" fill="none" stroke="#111" stroke-width="1.2"/>
<text x="1019.3" y="478.2" font-size="12" font-weight="normal" font-style="italic" text-anchor="start" fill="#111" >ir</text>
<text x="1023.5" y="462.3" font-size="12.5"><tspan font-weight="bold">2,</tspan><tspan font-style="italic">r</tspan></text>
<path d="M992,457 L992.0,359.0" fill="none" stroke="#548235" stroke-width="1.8"/>
<polygon points="992.0,349.0 998.0,361.0 992.0,359.7 986.0,361.0" fill="#548235"/>
<polygon points="886.5,457.5 893.5,450.5 906.5,450.5 899.5,457.5" fill="#A9D18E" stroke="#fff" stroke-width="0.6"/>
<polygon points="899.5,457.5 906.5,450.5 906.5,478.5 899.5,485.5" fill="#548235" stroke="#fff" stroke-width="0.6"/>
<rect x="886.5" y="457.5" width="13" height="28" fill="#70AD47" stroke="#fff" stroke-width="0.6"/>
<text x="859.5" y="476" font-size="21" font-weight="bold" font-style="italic" text-anchor="start" fill="#111" >F</text>
<path d="M864.6,458.5 C865.6,456.0 867.1,456.5 868.1,457.5 S870.6,458.5 871.6,456.3" fill="none" stroke="#111" stroke-width="1.2"/>
<text x="875.3" y="465.8" font-size="12.5" font-weight="bold" font-style="normal" text-anchor="start" fill="#111" >2</text>
<text x="871.3" y="481.7" font-size="12" font-weight="normal" font-style="italic" text-anchor="start" fill="#111" >ir</text>
<path d="M896,457 L896,376" fill="none" stroke="#548235" stroke-width="1.8"/>
<polygon points="896.0,365.0 902.0,377.0 896.0,375.7 890.0,377.0" fill="#548235"/>
<path d="M1021,300 L1047.0,300.0" fill="none" stroke="#C98B3C" stroke-width="2.2"/>
<polygon points="1057.0,300.0 1045.0,306.0 1046.3,300.0 1045.0,294.0" fill="#C98B3C"/>
<text x="1031.5" y="285" font-size="22" font-weight="bold" font-style="italic" text-anchor="start" fill="#111" >I</text>
<text x="1040.3" y="291.2" font-size="12" font-weight="normal" font-style="italic" text-anchor="start" fill="#111" >f</text>
<rect x="1060" y="67" width="109" height="109" fill="#555" opacity="0.6" filter="url(#blur3)"/>
<use href="#pv" x="1057" y="63" width="109" height="109" filter="url(#soft)"/>
<text x="1100.5" y="51.8" font-size="20.5" font-weight="bold" font-style="italic" text-anchor="start" fill="#111" >I</text>
<text x="1110.0636363636363" y="42.8" font-size="12.5" font-weight="bold" font-style="normal" text-anchor="start" fill="#111" >1</text>
<text x="1108.7" y="58.0" font-size="12" font-weight="normal" font-style="italic" text-anchor="start" fill="#111" >ir</text>
<path d="M1111,172 L1111,181" fill="none" stroke="#2E75B6" stroke-width="1.5" stroke-dasharray="2.5,2"/>
<polygon points="1111.0,192.0 1105.5,181.0 1111.0,182.3 1116.5,181.0" fill="#2E75B6"/>
<text x="1111" y="203.5" font-size="16" font-weight="normal" font-style="normal" text-anchor="middle" fill="#111" >Gradient and</text>
<text x="1111" y="223.5" font-size="16" font-weight="normal" font-style="normal" text-anchor="middle" fill="#111" >Content Loss</text>
<polygon points="1111.0,227.0 1116.5,238.0 1111.0,236.7 1105.5,238.0" fill="#C98B3C"/>
<path d="M1111,238 L1111,246" fill="none" stroke="#C98B3C" stroke-width="1.5" stroke-dasharray="2.5,2"/>
<rect x="1060" y="250.5" width="109" height="108" fill="#555" opacity="0.6" filter="url(#blur3)"/>
<use href="#pf" x="1057" y="246.5" width="109" height="108" filter="url(#soft)"/>
<path d="M1111,355 L1111,364" fill="none" stroke="#C98B3C" stroke-width="1.5" stroke-dasharray="2.5,2"/>
<polygon points="1111.0,375.0 1105.5,364.0 1111.0,365.3 1116.5,364.0" fill="#C98B3C"/>
<text x="1111" y="387.5" font-size="16" font-weight="normal" font-style="normal" text-anchor="middle" fill="#111" >Gradient and</text>
<text x="1111" y="407" font-size="16" font-weight="normal" font-style="normal" text-anchor="middle" fill="#111" >Content Loss</text>
<polygon points="1111.0,412.0 1116.5,423.0 1111.0,421.7 1105.5,423.0" fill="#8CCB6A"/>
<path d="M1111,422 L1111,427" fill="none" stroke="#8CCB6A" stroke-width="1.5" stroke-dasharray="2.5,2"/>
<rect x="1060.5" y="431" width="109" height="108.5" fill="#555" opacity="0.6" filter="url(#blur3)"/>
<use href="#pi" x="1057.5" y="427" width="109" height="108.5" filter="url(#soft)"/>
<text x="1100" y="560" font-size="21" font-weight="bold" font-style="italic" text-anchor="start" fill="#111" >I</text>
<text x="1109.3090909090909" y="550.5" font-size="12.5" font-weight="bold" font-style="normal" text-anchor="start" fill="#111" >1</text>
<text x="1108.4" y="566.2" font-size="12" font-weight="normal" font-style="italic" text-anchor="start" fill="#111" >vis</text>
<line x1="53.0" y1="601.5" x2="67.5" y2="601.5" stroke="#2E75B6" stroke-width="3.2" stroke-linecap="round"/>
<polygon points="79.5,601.5 65.0,593.5 68.0,601.5 65.0,609.5" fill="#2E75B6"/>
<text x="89" y="606" font-size="16" font-weight="normal" font-style="normal" text-anchor="start" fill="#222" >Pair 1 visible image</text>
<line x1="53.0" y1="632" x2="67.5" y2="632" stroke="#74B8EC" stroke-width="3.2" stroke-linecap="round"/>
<polygon points="79.5,632 65.0,624 68.0,632 65.0,640" fill="#74B8EC"/>
<text x="89" y="636.5" font-size="16" font-weight="normal" font-style="normal" text-anchor="start" fill="#222" >Pair 2 visible image</text>
<line x1="318.5" y1="601.5" x2="333" y2="601.5" stroke="#548235" stroke-width="3.2" stroke-linecap="round"/>
<polygon points="345,601.5 330.5,593.5 333.5,601.5 330.5,609.5" fill="#548235"/>
<text x="354" y="606" font-size="16" font-weight="normal" font-style="normal" text-anchor="start" fill="#222" >Pair 2 infrared image</text>
<line x1="318.5" y1="632" x2="333" y2="632" stroke="#8CCB6A" stroke-width="3.2" stroke-linecap="round"/>
<polygon points="345,632 330.5,624 333.5,632 330.5,640" fill="#8CCB6A"/>
<text x="354" y="636.5" font-size="16" font-weight="normal" font-style="normal" text-anchor="start" fill="#222" >Pair 1 infrared image</text>
<line x1="590.5" y1="601.5" x2="605" y2="601.5" stroke="#31859C" stroke-width="3.2" stroke-linecap="round"/>
<polygon points="617,601.5 602.5,593.5 605.5,601.5 602.5,609.5" fill="#31859C"/>
<text x="626" y="606" font-size="16" font-weight="normal" font-style="normal" text-anchor="start" fill="#222" >Pair 1 fusion feature</text>
<line x1="590.5" y1="632" x2="605" y2="632" stroke="#8FD8EA" stroke-width="3.2" stroke-linecap="round"/>
<polygon points="617,632 602.5,624 605.5,632 602.5,640" fill="#8FD8EA"/>
<text x="626" y="636.5" font-size="16" font-weight="normal" font-style="normal" text-anchor="start" fill="#222" >Pair 2 fusion feature</text>
<line x1="829.5" y1="617" x2="844" y2="617" stroke="#C98B3C" stroke-width="3.2" stroke-linecap="round"/>
<polygon points="856,617 841.5,609 844.5,617 841.5,625" fill="#C98B3C"/>
<text x="870.5" y="625" font-size="24" font-weight="normal" font-style="normal" text-anchor="start" fill="#111" >{</text>
<text x="880" y="622.5" font-size="22" font-weight="bold" font-style="italic" text-anchor="start" fill="#111" >I</text>
<text x="890.8" y="612.5" font-size="12.5" font-weight="bold" font-style="normal" text-anchor="start" fill="#111" >2</text>
<text x="888.8" y="628.7" font-size="12" font-weight="normal" font-style="italic" text-anchor="start" fill="#111" >ir</text>
<text x="902" y="625" font-size="17" font-weight="bold" font-style="normal" text-anchor="start" fill="#111" >,</text>
<text x="911" y="622.5" font-size="22" font-weight="bold" font-style="italic" text-anchor="start" fill="#111" >I</text>
<text x="921.8" y="612.5" font-size="12.5" font-weight="bold" font-style="normal" text-anchor="start" fill="#111" >1</text>
<text x="919.8" y="628.7" font-size="12" font-weight="normal" font-style="italic" text-anchor="start" fill="#111" >vis</text>
<text x="936.5" y="625" font-size="24" font-weight="normal" font-style="normal" text-anchor="start" fill="#111" >}</text>
<text x="952" y="621.5" font-size="16" font-weight="normal" font-style="normal" text-anchor="start" fill="#222" >reorganization and fusion</text>
</svg></body></html>
